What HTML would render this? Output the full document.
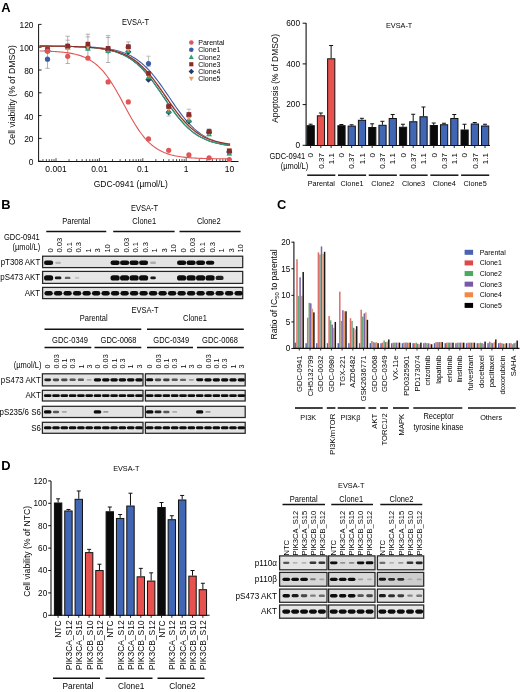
<!DOCTYPE html>
<html><head><meta charset="utf-8"><title>Figure</title>
<style>html,body{margin:0;padding:0;background:#fff;}body{width:520px;height:692px;overflow:hidden;font-family:"Liberation Sans", sans-serif;}svg{display:block;filter:blur(0.35px);}</style>
</head><body>
<svg width="520" height="692" viewBox="0 0 520 692" font-family='"Liberation Sans", sans-serif'>
<defs>
<filter id="bl" x="-50%" y="-80%" width="200%" height="260%"><feGaussianBlur stdDeviation="0.55"/></filter>
<clipPath id="cclip"><rect x="300" y="400" width="200" height="45.5"/></clipPath>
</defs>
<rect width="520" height="692" fill="#fff"/>
<text x="1.20" y="11.90" font-size="12.90" text-anchor="start" font-weight="bold" fill="#000">A</text>
<text x="135.50" y="25.00" font-size="8.25" text-anchor="middle" transform="translate(135.50 25.00) scale(0.9091 1) translate(-135.50 -25.00)" fill="#050505">EVSA-T</text>
<line x1="38.60" y1="24.20" x2="38.60" y2="161.20" stroke="#111" stroke-width="1"/>
<line x1="38.10" y1="161.50" x2="238.50" y2="161.50" stroke="#111" stroke-width="1"/>
<line x1="38.60" y1="161.20" x2="41.60" y2="161.20" stroke="#111" stroke-width="0.9"/>
<text x="33.50" y="165.20" font-size="9.24" text-anchor="end" transform="translate(33.50 165.20) scale(0.9091 1) translate(-33.50 -165.20)" fill="#050505">0</text>
<line x1="38.60" y1="138.40" x2="41.60" y2="138.40" stroke="#111" stroke-width="0.9"/>
<text x="33.50" y="142.40" font-size="9.24" text-anchor="end" transform="translate(33.50 142.40) scale(0.9091 1) translate(-33.50 -142.40)" fill="#050505">20</text>
<line x1="38.60" y1="115.60" x2="41.60" y2="115.60" stroke="#111" stroke-width="0.9"/>
<text x="33.50" y="119.60" font-size="9.24" text-anchor="end" transform="translate(33.50 119.60) scale(0.9091 1) translate(-33.50 -119.60)" fill="#050505">40</text>
<line x1="38.60" y1="92.80" x2="41.60" y2="92.80" stroke="#111" stroke-width="0.9"/>
<text x="33.50" y="96.80" font-size="9.24" text-anchor="end" transform="translate(33.50 96.80) scale(0.9091 1) translate(-33.50 -96.80)" fill="#050505">60</text>
<line x1="38.60" y1="70.00" x2="41.60" y2="70.00" stroke="#111" stroke-width="0.9"/>
<text x="33.50" y="74.00" font-size="9.24" text-anchor="end" transform="translate(33.50 74.00) scale(0.9091 1) translate(-33.50 -74.00)" fill="#050505">80</text>
<line x1="38.60" y1="47.20" x2="41.60" y2="47.20" stroke="#111" stroke-width="0.9"/>
<text x="33.50" y="51.20" font-size="9.24" text-anchor="end" transform="translate(33.50 51.20) scale(0.9091 1) translate(-33.50 -51.20)" fill="#050505">100</text>
<line x1="38.60" y1="24.40" x2="41.60" y2="24.40" stroke="#111" stroke-width="0.9"/>
<text x="33.50" y="28.40" font-size="9.24" text-anchor="end" transform="translate(33.50 28.40) scale(0.9091 1) translate(-33.50 -28.40)" fill="#050505">120</text>
<line x1="42.94" y1="161.50" x2="42.94" y2="159.10" stroke="#222" stroke-width="0.8"/>
<line x1="46.37" y1="161.50" x2="46.37" y2="159.10" stroke="#222" stroke-width="0.8"/>
<line x1="49.28" y1="161.50" x2="49.28" y2="159.10" stroke="#222" stroke-width="0.8"/>
<line x1="51.79" y1="161.50" x2="51.79" y2="159.10" stroke="#222" stroke-width="0.8"/>
<line x1="54.01" y1="161.50" x2="54.01" y2="159.10" stroke="#222" stroke-width="0.8"/>
<line x1="56.00" y1="161.50" x2="56.00" y2="158.10" stroke="#222" stroke-width="0.8"/>
<line x1="69.06" y1="161.50" x2="69.06" y2="159.10" stroke="#222" stroke-width="0.8"/>
<line x1="76.71" y1="161.50" x2="76.71" y2="159.10" stroke="#222" stroke-width="0.8"/>
<line x1="82.13" y1="161.50" x2="82.13" y2="159.10" stroke="#222" stroke-width="0.8"/>
<line x1="86.34" y1="161.50" x2="86.34" y2="159.10" stroke="#222" stroke-width="0.8"/>
<line x1="89.77" y1="161.50" x2="89.77" y2="159.10" stroke="#222" stroke-width="0.8"/>
<line x1="92.68" y1="161.50" x2="92.68" y2="159.10" stroke="#222" stroke-width="0.8"/>
<line x1="95.19" y1="161.50" x2="95.19" y2="159.10" stroke="#222" stroke-width="0.8"/>
<line x1="97.41" y1="161.50" x2="97.41" y2="159.10" stroke="#222" stroke-width="0.8"/>
<line x1="99.40" y1="161.50" x2="99.40" y2="158.10" stroke="#222" stroke-width="0.8"/>
<line x1="112.46" y1="161.50" x2="112.46" y2="159.10" stroke="#222" stroke-width="0.8"/>
<line x1="120.11" y1="161.50" x2="120.11" y2="159.10" stroke="#222" stroke-width="0.8"/>
<line x1="125.53" y1="161.50" x2="125.53" y2="159.10" stroke="#222" stroke-width="0.8"/>
<line x1="129.74" y1="161.50" x2="129.74" y2="159.10" stroke="#222" stroke-width="0.8"/>
<line x1="133.17" y1="161.50" x2="133.17" y2="159.10" stroke="#222" stroke-width="0.8"/>
<line x1="136.08" y1="161.50" x2="136.08" y2="159.10" stroke="#222" stroke-width="0.8"/>
<line x1="138.59" y1="161.50" x2="138.59" y2="159.10" stroke="#222" stroke-width="0.8"/>
<line x1="140.81" y1="161.50" x2="140.81" y2="159.10" stroke="#222" stroke-width="0.8"/>
<line x1="142.80" y1="161.50" x2="142.80" y2="158.10" stroke="#222" stroke-width="0.8"/>
<line x1="155.86" y1="161.50" x2="155.86" y2="159.10" stroke="#222" stroke-width="0.8"/>
<line x1="163.51" y1="161.50" x2="163.51" y2="159.10" stroke="#222" stroke-width="0.8"/>
<line x1="168.93" y1="161.50" x2="168.93" y2="159.10" stroke="#222" stroke-width="0.8"/>
<line x1="173.14" y1="161.50" x2="173.14" y2="159.10" stroke="#222" stroke-width="0.8"/>
<line x1="176.57" y1="161.50" x2="176.57" y2="159.10" stroke="#222" stroke-width="0.8"/>
<line x1="179.48" y1="161.50" x2="179.48" y2="159.10" stroke="#222" stroke-width="0.8"/>
<line x1="181.99" y1="161.50" x2="181.99" y2="159.10" stroke="#222" stroke-width="0.8"/>
<line x1="184.21" y1="161.50" x2="184.21" y2="159.10" stroke="#222" stroke-width="0.8"/>
<line x1="186.20" y1="161.50" x2="186.20" y2="158.10" stroke="#222" stroke-width="0.8"/>
<line x1="199.26" y1="161.50" x2="199.26" y2="159.10" stroke="#222" stroke-width="0.8"/>
<line x1="206.91" y1="161.50" x2="206.91" y2="159.10" stroke="#222" stroke-width="0.8"/>
<line x1="212.33" y1="161.50" x2="212.33" y2="159.10" stroke="#222" stroke-width="0.8"/>
<line x1="216.54" y1="161.50" x2="216.54" y2="159.10" stroke="#222" stroke-width="0.8"/>
<line x1="219.97" y1="161.50" x2="219.97" y2="159.10" stroke="#222" stroke-width="0.8"/>
<line x1="222.88" y1="161.50" x2="222.88" y2="159.10" stroke="#222" stroke-width="0.8"/>
<line x1="225.39" y1="161.50" x2="225.39" y2="159.10" stroke="#222" stroke-width="0.8"/>
<line x1="227.61" y1="161.50" x2="227.61" y2="159.10" stroke="#222" stroke-width="0.8"/>
<line x1="229.60" y1="161.50" x2="229.60" y2="158.10" stroke="#222" stroke-width="0.8"/>
<text x="56.00" y="172.20" font-size="9.35" text-anchor="middle" transform="translate(56.00 172.20) scale(0.9091 1) translate(-56.00 -172.20)" fill="#050505">0.001</text>
<text x="99.40" y="172.20" font-size="9.35" text-anchor="middle" transform="translate(99.40 172.20) scale(0.9091 1) translate(-99.40 -172.20)" fill="#050505">0.01</text>
<text x="142.80" y="172.20" font-size="9.35" text-anchor="middle" transform="translate(142.80 172.20) scale(0.9091 1) translate(-142.80 -172.20)" fill="#050505">0.1</text>
<text x="186.20" y="172.20" font-size="9.35" text-anchor="middle" transform="translate(186.20 172.20) scale(0.9091 1) translate(-186.20 -172.20)" fill="#050505">1</text>
<text x="229.60" y="172.20" font-size="9.35" text-anchor="middle" transform="translate(229.60 172.20) scale(0.9091 1) translate(-229.60 -172.20)" fill="#050505">10</text>
<text x="130.80" y="187.10" font-size="9.35" text-anchor="middle" transform="translate(130.80 187.10) scale(0.9091 1) translate(-130.80 -187.10)" fill="#050505">GDC-0941 (µmol/L)</text>
<text x="14.90" y="95.00" font-size="8.70" text-anchor="middle" transform="rotate(-90 14.90 95.00)" fill="#050505">Cell viability (% of DMSO)</text>
<line x1="47.50" y1="47.50" x2="47.50" y2="68.30" stroke="#9aa0b0" stroke-width="0.8"/>
<line x1="45.30" y1="47.50" x2="49.70" y2="47.50" stroke="#9aa0b0" stroke-width="0.8"/>
<line x1="45.30" y1="68.30" x2="49.70" y2="68.30" stroke="#9aa0b0" stroke-width="0.8"/>
<line x1="67.70" y1="36.20" x2="67.70" y2="63.50" stroke="#a0a0a0" stroke-width="0.8"/>
<line x1="65.50" y1="36.20" x2="69.90" y2="36.20" stroke="#a0a0a0" stroke-width="0.8"/>
<line x1="65.50" y1="63.50" x2="69.90" y2="63.50" stroke="#a0a0a0" stroke-width="0.8"/>
<line x1="87.90" y1="34.20" x2="87.90" y2="59.60" stroke="#a0a0a0" stroke-width="0.8"/>
<line x1="85.70" y1="34.20" x2="90.10" y2="34.20" stroke="#a0a0a0" stroke-width="0.8"/>
<line x1="85.70" y1="59.60" x2="90.10" y2="59.60" stroke="#a0a0a0" stroke-width="0.8"/>
<line x1="108.10" y1="35.60" x2="108.10" y2="62.50" stroke="#a0a0a0" stroke-width="0.8"/>
<line x1="105.90" y1="35.60" x2="110.30" y2="35.60" stroke="#a0a0a0" stroke-width="0.8"/>
<line x1="105.90" y1="62.50" x2="110.30" y2="62.50" stroke="#a0a0a0" stroke-width="0.8"/>
<line x1="128.30" y1="41.90" x2="128.30" y2="51.50" stroke="#a0a0a0" stroke-width="0.8"/>
<line x1="126.10" y1="41.90" x2="130.50" y2="41.90" stroke="#a0a0a0" stroke-width="0.8"/>
<line x1="126.10" y1="51.50" x2="130.50" y2="51.50" stroke="#a0a0a0" stroke-width="0.8"/>
<line x1="148.50" y1="56.20" x2="148.50" y2="66.50" stroke="#b0b0b0" stroke-width="0.8"/>
<line x1="146.30" y1="56.20" x2="150.70" y2="56.20" stroke="#b0b0b0" stroke-width="0.8"/>
<line x1="146.30" y1="66.50" x2="150.70" y2="66.50" stroke="#b0b0b0" stroke-width="0.8"/>
<line x1="168.70" y1="103.50" x2="168.70" y2="116.00" stroke="#b0b0b0" stroke-width="0.8"/>
<line x1="166.50" y1="103.50" x2="170.90" y2="103.50" stroke="#b0b0b0" stroke-width="0.8"/>
<line x1="166.50" y1="116.00" x2="170.90" y2="116.00" stroke="#b0b0b0" stroke-width="0.8"/>
<line x1="188.90" y1="109.20" x2="188.90" y2="121.00" stroke="#b0b0b0" stroke-width="0.8"/>
<line x1="186.70" y1="109.20" x2="191.10" y2="109.20" stroke="#b0b0b0" stroke-width="0.8"/>
<line x1="186.70" y1="121.00" x2="191.10" y2="121.00" stroke="#b0b0b0" stroke-width="0.8"/>
<line x1="209.10" y1="128.80" x2="209.10" y2="135.80" stroke="#b0b0b0" stroke-width="0.8"/>
<line x1="206.90" y1="128.80" x2="211.30" y2="128.80" stroke="#b0b0b0" stroke-width="0.8"/>
<line x1="206.90" y1="135.80" x2="211.30" y2="135.80" stroke="#b0b0b0" stroke-width="0.8"/>
<line x1="229.30" y1="149.00" x2="229.30" y2="155.00" stroke="#b8b8b8" stroke-width="0.8"/>
<line x1="227.10" y1="149.00" x2="231.50" y2="149.00" stroke="#b8b8b8" stroke-width="0.8"/>
<line x1="227.10" y1="155.00" x2="231.50" y2="155.00" stroke="#b8b8b8" stroke-width="0.8"/>
<line x1="65.50" y1="40.20" x2="69.90" y2="40.20" stroke="#a8a0a0" stroke-width="0.8"/>
<line x1="85.70" y1="36.90" x2="90.10" y2="36.90" stroke="#a8a0a0" stroke-width="0.8"/>
<line x1="105.90" y1="37.50" x2="110.30" y2="37.50" stroke="#a8a0a0" stroke-width="0.8"/>
<line x1="85.70" y1="57.50" x2="90.10" y2="57.50" stroke="#a8a0a0" stroke-width="0.8"/>
<polyline points="39.6,46.11 41.1,46.12 42.6,46.12 44.1,46.13 45.6,46.14 47.1,46.14 48.6,46.15 50.1,46.16 51.6,46.17 53.1,46.18 54.6,46.19 56.1,46.20 57.6,46.21 59.1,46.23 60.6,46.24 62.1,46.26 63.6,46.28 65.1,46.30 66.6,46.32 68.1,46.34 69.6,46.37 71.1,46.40 72.6,46.43 74.1,46.46 75.6,46.50 77.1,46.54 78.6,46.58 80.1,46.63 81.6,46.68 83.1,46.73 84.6,46.79 86.1,46.86 87.6,46.93 89.1,47.01 90.6,47.10 92.1,47.19 93.6,47.30 95.1,47.41 96.6,47.53 98.1,47.66 99.6,47.80 101.1,47.96 102.6,48.13 104.1,48.32 105.6,48.52 107.1,48.74 108.6,48.97 110.1,49.23 111.6,49.51 113.1,49.82 114.6,50.15 116.1,50.50 117.6,50.89 119.1,51.31 120.6,51.76 122.1,52.25 123.6,52.78 125.1,53.35 126.6,53.97 128.1,54.63 129.6,55.35 131.1,56.11 132.6,56.93 134.1,57.81 135.6,58.75 137.1,59.76 138.6,60.83 140.1,61.97 141.6,63.18 143.1,64.46 144.6,65.81 146.1,67.24 147.6,68.75 149.1,70.33 150.6,71.98 152.1,73.70 153.6,75.50 155.1,77.36 156.6,79.29 158.1,81.27 159.6,83.31 161.1,85.40 162.6,87.53 164.1,89.69 165.6,91.88 167.1,94.08 168.6,96.30 170.1,98.52 171.6,100.74 173.1,102.93 174.6,105.11 176.1,107.25 177.6,109.36 179.1,111.42 180.6,113.43 182.1,115.38 183.6,117.27 185.1,119.10 186.6,120.85 188.1,122.54 189.6,124.15 191.1,125.69 192.6,127.15 194.1,128.54 195.6,129.85 197.1,131.09 198.6,132.26 200.1,133.36 201.6,134.40 203.1,135.36 204.6,136.27 206.1,137.12 207.6,137.91 209.1,138.64 210.6,139.32 212.1,139.96 213.6,140.55 215.1,141.10 216.6,141.60 218.1,142.07 219.6,142.51 221.1,142.91 222.6,143.28 224.1,143.62 225.6,143.94 227.1,144.23 228.6,144.49 230.1,144.74" fill="none" stroke="#3b5ca8" stroke-width="1.1"/>
<polyline points="39.6,46.13 41.1,46.14 42.6,46.15 44.1,46.16 45.6,46.16 47.1,46.17 48.6,46.18 50.1,46.20 51.6,46.21 53.1,46.22 54.6,46.24 56.1,46.25 57.6,46.27 59.1,46.29 60.6,46.31 62.1,46.33 63.6,46.36 65.1,46.38 66.6,46.41 68.1,46.45 69.6,46.48 71.1,46.52 72.6,46.56 74.1,46.61 75.6,46.66 77.1,46.71 78.6,46.77 80.1,46.83 81.6,46.90 83.1,46.98 84.6,47.06 86.1,47.16 87.6,47.25 89.1,47.36 90.6,47.48 92.1,47.61 93.6,47.75 95.1,47.90 96.6,48.06 98.1,48.24 99.6,48.44 101.1,48.65 102.6,48.88 104.1,49.13 105.6,49.40 107.1,49.70 108.6,50.02 110.1,50.36 111.6,50.74 113.1,51.15 114.6,51.59 116.1,52.06 117.6,52.58 119.1,53.13 120.6,53.73 122.1,54.37 123.6,55.06 125.1,55.81 126.6,56.61 128.1,57.46 129.6,58.38 131.1,59.36 132.6,60.41 134.1,61.52 135.6,62.70 137.1,63.95 138.6,65.28 140.1,66.68 141.6,68.16 143.1,69.71 144.6,71.33 146.1,73.03 147.6,74.80 149.1,76.64 150.6,78.54 152.1,80.50 153.6,82.52 155.1,84.59 156.6,86.70 158.1,88.85 159.6,91.03 161.1,93.23 162.6,95.45 164.1,97.67 165.6,99.88 167.1,102.09 168.6,104.27 170.1,106.43 171.6,108.55 173.1,110.63 174.6,112.66 176.1,114.64 177.6,116.55 179.1,118.40 180.6,120.18 182.1,121.90 183.6,123.54 185.1,125.10 186.6,126.59 188.1,128.01 189.6,129.35 191.1,130.62 192.6,131.82 194.1,132.95 195.6,134.01 197.1,135.00 198.6,135.93 200.1,136.80 201.6,137.61 203.1,138.36 204.6,139.07 206.1,139.72 207.6,140.33 209.1,140.89 210.6,141.41 212.1,141.90 213.6,142.34 215.1,142.76 216.6,143.14 218.1,143.49 219.6,143.82 221.1,144.12 222.6,144.39 224.1,144.65 225.6,144.88 227.1,145.10 228.6,145.30 230.1,145.48" fill="none" stroke="#2b3768" stroke-width="1.1"/>
<polyline points="39.6,46.13 41.1,46.14 42.6,46.15 44.1,46.16 45.6,46.16 47.1,46.17 48.6,46.18 50.1,46.20 51.6,46.21 53.1,46.22 54.6,46.24 56.1,46.25 57.6,46.27 59.1,46.29 60.6,46.31 62.1,46.33 63.6,46.36 65.1,46.38 66.6,46.41 68.1,46.45 69.6,46.48 71.1,46.52 72.6,46.56 74.1,46.61 75.6,46.66 77.1,46.71 78.6,46.77 80.1,46.83 81.6,46.90 83.1,46.98 84.6,47.06 86.1,47.16 87.6,47.25 89.1,47.36 90.6,47.48 92.1,47.61 93.6,47.75 95.1,47.90 96.6,48.06 98.1,48.24 99.6,48.44 101.1,48.65 102.6,48.88 104.1,49.13 105.6,49.40 107.1,49.70 108.6,50.02 110.1,50.36 111.6,50.74 113.1,51.15 114.6,51.59 116.1,52.06 117.6,52.58 119.1,53.13 120.6,53.73 122.1,54.37 123.6,55.06 125.1,55.81 126.6,56.61 128.1,57.46 129.6,58.38 131.1,59.36 132.6,60.41 134.1,61.52 135.6,62.70 137.1,63.95 138.6,65.28 140.1,66.68 141.6,68.16 143.1,69.71 144.6,71.33 146.1,73.03 147.6,74.80 149.1,76.64 150.6,78.54 152.1,80.50 153.6,82.52 155.1,84.59 156.6,86.70 158.1,88.85 159.6,91.03 161.1,93.23 162.6,95.45 164.1,97.67 165.6,99.88 167.1,102.09 168.6,104.27 170.1,106.43 171.6,108.55 173.1,110.63 174.6,112.66 176.1,114.64 177.6,116.55 179.1,118.40 180.6,120.18 182.1,121.90 183.6,123.54 185.1,125.10 186.6,126.59 188.1,128.01 189.6,129.35 191.1,130.62 192.6,131.82 194.1,132.95 195.6,134.01 197.1,135.00 198.6,135.93 200.1,136.80 201.6,137.61 203.1,138.36 204.6,139.07 206.1,139.72 207.6,140.33 209.1,140.89 210.6,141.41 212.1,141.90 213.6,142.34 215.1,142.76 216.6,143.14 218.1,143.49 219.6,143.82 221.1,144.12 222.6,144.39 224.1,144.65 225.6,144.88 227.1,145.10 228.6,145.30 230.1,145.48" fill="none" stroke="#2f9e73" stroke-width="1.1"/>
<polyline points="39.6,46.12 41.1,46.13 42.6,46.14 44.1,46.14 45.6,46.15 47.1,46.16 48.6,46.17 50.1,46.18 51.6,46.19 53.1,46.20 54.6,46.21 56.1,46.23 57.6,46.24 59.1,46.26 60.6,46.27 62.1,46.29 63.6,46.32 65.1,46.34 66.6,46.36 68.1,46.39 69.6,46.42 71.1,46.46 72.6,46.49 74.1,46.53 75.6,46.57 77.1,46.62 78.6,46.67 80.1,46.73 81.6,46.79 83.1,46.85 84.6,46.93 86.1,47.01 87.6,47.09 89.1,47.18 90.6,47.29 92.1,47.40 93.6,47.52 95.1,47.65 96.6,47.79 98.1,47.95 99.6,48.12 101.1,48.30 102.6,48.50 104.1,48.72 105.6,48.95 107.1,49.21 108.6,49.49 110.1,49.79 111.6,50.12 113.1,50.47 114.6,50.85 116.1,51.27 117.6,51.72 119.1,52.21 120.6,52.73 122.1,53.30 123.6,53.91 125.1,54.56 126.6,55.27 128.1,56.03 129.6,56.84 131.1,57.72 132.6,58.65 134.1,59.65 135.6,60.71 137.1,61.84 138.6,63.03 140.1,64.31 141.6,65.65 143.1,67.07 144.6,68.56 146.1,70.12 147.6,71.76 149.1,73.47 150.6,75.24 152.1,77.09 153.6,79.00 155.1,80.96 156.6,82.98 158.1,85.04 159.6,87.15 161.1,89.29 162.6,91.45 164.1,93.64 165.6,95.83 167.1,98.03 168.6,100.21 170.1,102.39 171.6,104.54 173.1,106.65 174.6,108.73 176.1,110.77 177.6,112.75 179.1,114.68 180.6,116.55 182.1,118.35 183.6,120.08 185.1,121.75 186.6,123.34 188.1,124.85 189.6,126.30 191.1,127.67 192.6,128.96 194.1,130.19 195.6,131.34 197.1,132.43 198.6,133.44 200.1,134.40 201.6,135.29 203.1,136.13 204.6,136.91 206.1,137.63 207.6,138.30 209.1,138.93 210.6,139.51 212.1,140.05 213.6,140.55 215.1,141.01 216.6,141.44 218.1,141.84 219.6,142.20 221.1,142.54 222.6,142.85 224.1,143.14 225.6,143.40 227.1,143.64 228.6,143.87 230.1,144.07" fill="none" stroke="#e5a062" stroke-width="1.1"/>
<polyline points="39.6,46.13 41.1,46.13 42.6,46.14 44.1,46.14 45.6,46.15 47.1,46.16 48.6,46.17 50.1,46.18 51.6,46.19 53.1,46.20 54.6,46.22 56.1,46.23 57.6,46.25 59.1,46.26 60.6,46.28 62.1,46.30 63.6,46.32 65.1,46.35 66.6,46.38 68.1,46.40 69.6,46.44 71.1,46.47 72.6,46.51 74.1,46.55 75.6,46.59 77.1,46.64 78.6,46.69 80.1,46.75 81.6,46.81 83.1,46.88 84.6,46.96 86.1,47.04 87.6,47.12 89.1,47.22 90.6,47.33 92.1,47.44 93.6,47.56 95.1,47.70 96.6,47.85 98.1,48.01 99.6,48.18 101.1,48.37 102.6,48.58 104.1,48.80 105.6,49.05 107.1,49.31 108.6,49.60 110.1,49.91 111.6,50.25 113.1,50.61 114.6,51.01 116.1,51.44 117.6,51.90 119.1,52.40 120.6,52.94 122.1,53.52 123.6,54.15 125.1,54.82 126.6,55.55 128.1,56.33 129.6,57.16 131.1,58.06 132.6,59.02 134.1,60.04 135.6,61.12 137.1,62.28 138.6,63.50 140.1,64.80 141.6,66.17 143.1,67.62 144.6,69.13 146.1,70.73 147.6,72.39 149.1,74.13 150.6,75.93 152.1,77.80 153.6,79.73 155.1,81.71 156.6,83.75 158.1,85.83 159.6,87.95 161.1,90.10 162.6,92.27 164.1,94.46 165.6,96.65 167.1,98.85 168.6,101.03 170.1,103.20 171.6,105.33 173.1,107.44 174.6,109.50 176.1,111.52 177.6,113.48 179.1,115.39 180.6,117.23 182.1,119.01 183.6,120.72 185.1,122.35 186.6,123.91 188.1,125.40 189.6,126.82 191.1,128.16 192.6,129.43 194.1,130.63 195.6,131.76 197.1,132.82 198.6,133.81 200.1,134.74 201.6,135.61 203.1,136.43 204.6,137.18 206.1,137.89 207.6,138.54 209.1,139.15 210.6,139.72 212.1,140.24 213.6,140.73 215.1,141.18 216.6,141.59 218.1,141.98 219.6,142.33 221.1,142.66 222.6,142.96 224.1,143.24 225.6,143.49 227.1,143.73 228.6,143.95 230.1,144.14" fill="none" stroke="#8a2b2b" stroke-width="1.1"/>
<polyline points="39.6,50.94 41.1,50.97 42.6,51.01 44.1,51.05 45.6,51.10 47.1,51.15 48.6,51.21 50.1,51.28 51.6,51.35 53.1,51.43 54.6,51.51 56.1,51.61 57.6,51.72 59.1,51.83 60.6,51.96 62.1,52.11 63.6,52.27 65.1,52.44 66.6,52.64 68.1,52.86 69.6,53.09 71.1,53.36 72.6,53.65 74.1,53.97 75.6,54.32 77.1,54.71 78.6,55.13 80.1,55.60 81.6,56.12 83.1,56.68 84.6,57.30 86.1,57.98 87.6,58.72 89.1,59.54 90.6,60.42 92.1,61.38 93.6,62.43 95.1,63.56 96.6,64.79 98.1,66.11 99.6,67.53 101.1,69.06 102.6,70.70 104.1,72.45 105.6,74.31 107.1,76.28 108.6,78.36 110.1,80.54 111.6,82.84 113.1,85.23 114.6,87.71 116.1,90.27 117.6,92.90 119.1,95.60 120.6,98.34 122.1,101.12 123.6,103.91 125.1,106.71 126.6,109.50 128.1,112.27 129.6,114.99 131.1,117.66 132.6,120.27 134.1,122.80 135.6,125.25 137.1,127.60 138.6,129.85 140.1,132.00 141.6,134.04 143.1,135.97 144.6,137.78 146.1,139.49 147.6,141.08 149.1,142.57 150.6,143.96 152.1,145.24 153.6,146.43 155.1,147.53 156.6,148.54 158.1,149.47 159.6,150.33 161.1,151.11 162.6,151.83 164.1,152.48 165.6,153.08 167.1,153.63 168.6,154.12 170.1,154.58 171.6,154.99 173.1,155.36 174.6,155.70 176.1,156.01 177.6,156.29 179.1,156.54 180.6,156.77 182.1,156.98 183.6,157.17 185.1,157.34 186.6,157.49 188.1,157.63 189.6,157.75 191.1,157.87 192.6,157.97 194.1,158.06 195.6,158.15 197.1,158.22 198.6,158.29 200.1,158.35 201.6,158.41 203.1,158.46 204.6,158.50 206.1,158.54 207.6,158.58 209.1,158.61 210.6,158.64 212.1,158.67 213.6,158.70 215.1,158.72 216.6,158.74 218.1,158.76 219.6,158.77 221.1,158.79 222.6,158.80 224.1,158.81 225.6,158.82 227.1,158.83 228.6,158.84 230.1,158.85" fill="none" stroke="#e05656" stroke-width="1.1"/>
<circle cx="47.50" cy="59.17" r="2.6" fill="#3b5ca8"/>
<circle cx="67.70" cy="46.06" r="2.6" fill="#3b5ca8"/>
<circle cx="87.90" cy="47.20" r="2.6" fill="#3b5ca8"/>
<circle cx="108.10" cy="49.48" r="2.6" fill="#3b5ca8"/>
<circle cx="128.30" cy="47.20" r="2.6" fill="#3b5ca8"/>
<circle cx="148.50" cy="63.62" r="2.6" fill="#3b5ca8"/>
<circle cx="168.70" cy="106.48" r="2.6" fill="#3b5ca8"/>
<circle cx="188.90" cy="115.60" r="2.6" fill="#3b5ca8"/>
<circle cx="209.10" cy="131.56" r="2.6" fill="#3b5ca8"/>
<circle cx="229.30" cy="151.51" r="2.6" fill="#3b5ca8"/>
<polygon points="47.50,47.50 50.62,50.62 47.50,53.74 44.38,50.62" fill="#2b3768"/>
<polygon points="67.70,44.08 70.82,47.20 67.70,50.32 64.58,47.20" fill="#2b3768"/>
<polygon points="87.90,44.08 91.02,47.20 87.90,50.32 84.78,47.20" fill="#2b3768"/>
<polygon points="108.10,47.50 111.22,50.62 108.10,53.74 104.98,50.62" fill="#2b3768"/>
<polygon points="128.30,48.64 131.42,51.76 128.30,54.88 125.18,51.76" fill="#2b3768"/>
<polygon points="148.50,76.57 151.62,79.69 148.50,82.81 145.38,79.69" fill="#2b3768"/>
<polygon points="168.70,109.06 171.82,112.18 168.70,115.30 165.58,112.18" fill="#2b3768"/>
<polygon points="188.90,118.18 192.02,121.30 188.90,124.42 185.78,121.30" fill="#2b3768"/>
<polygon points="209.10,129.58 212.22,132.70 209.10,135.82 205.98,132.70" fill="#2b3768"/>
<polygon points="229.30,148.96 232.42,152.08 229.30,155.20 226.18,152.08" fill="#2b3768"/>
<polygon points="47.50,47.76 50.36,52.96 44.64,52.96" fill="#2f9e73"/>
<polygon points="67.70,44.34 70.56,49.54 64.84,49.54" fill="#2f9e73"/>
<polygon points="87.90,45.48 90.76,50.68 85.04,50.68" fill="#2f9e73"/>
<polygon points="108.10,47.76 110.96,52.96 105.24,52.96" fill="#2f9e73"/>
<polygon points="128.30,47.76 131.16,52.96 125.44,52.96" fill="#2f9e73"/>
<polygon points="148.50,73.98 151.36,79.18 145.64,79.18" fill="#2f9e73"/>
<polygon points="168.70,108.18 171.56,113.38 165.84,113.38" fill="#2f9e73"/>
<polygon points="188.90,117.30 191.76,122.50 186.04,122.50" fill="#2f9e73"/>
<polygon points="209.10,130.98 211.96,136.18 206.24,136.18" fill="#2f9e73"/>
<polygon points="229.30,150.36 232.16,155.56 226.44,155.56" fill="#2f9e73"/>
<polygon points="47.50,53.48 50.36,48.28 44.64,48.28" fill="#e5a062"/>
<polygon points="67.70,51.20 70.56,46.00 64.84,46.00" fill="#e5a062"/>
<polygon points="87.90,50.06 90.76,44.86 85.04,44.86" fill="#e5a062"/>
<polygon points="108.10,52.34 110.96,47.14 105.24,47.14" fill="#e5a062"/>
<polygon points="128.30,52.34 131.16,47.14 125.44,47.14" fill="#e5a062"/>
<polygon points="148.50,77.42 151.36,72.22 145.64,72.22" fill="#e5a062"/>
<polygon points="168.70,111.62 171.56,106.42 165.84,106.42" fill="#e5a062"/>
<polygon points="188.90,120.74 191.76,115.54 186.04,115.54" fill="#e5a062"/>
<polygon points="209.10,135.56 211.96,130.36 206.24,130.36" fill="#e5a062"/>
<polygon points="229.30,153.80 232.16,148.60 226.44,148.60" fill="#e5a062"/>
<rect x="45.16" y="47.14" width="4.68" height="4.68" fill="#8a2b2b"/>
<rect x="65.36" y="43.72" width="4.68" height="4.68" fill="#8a2b2b"/>
<rect x="85.56" y="41.78" width="4.68" height="4.68" fill="#8a2b2b"/>
<rect x="105.76" y="46.00" width="4.68" height="4.68" fill="#8a2b2b"/>
<rect x="125.96" y="44.29" width="4.68" height="4.68" fill="#8a2b2b"/>
<rect x="146.16" y="71.08" width="4.68" height="4.68" fill="#8a2b2b"/>
<rect x="166.36" y="104.14" width="4.68" height="4.68" fill="#8a2b2b"/>
<rect x="186.56" y="112.12" width="4.68" height="4.68" fill="#8a2b2b"/>
<rect x="206.76" y="129.22" width="4.68" height="4.68" fill="#8a2b2b"/>
<rect x="226.96" y="148.60" width="4.68" height="4.68" fill="#8a2b2b"/>
<circle cx="47.50" cy="51.19" r="2.6" fill="#e05656"/>
<circle cx="67.70" cy="56.32" r="2.6" fill="#e05656"/>
<circle cx="87.90" cy="58.03" r="2.6" fill="#e05656"/>
<circle cx="108.10" cy="81.97" r="2.6" fill="#e05656"/>
<circle cx="128.30" cy="101.92" r="2.6" fill="#e05656"/>
<circle cx="148.50" cy="138.97" r="2.6" fill="#e05656"/>
<circle cx="168.70" cy="150.37" r="2.6" fill="#e05656"/>
<circle cx="188.90" cy="154.93" r="2.6" fill="#e05656"/>
<circle cx="209.10" cy="157.78" r="2.6" fill="#e05656"/>
<circle cx="229.30" cy="159.49" r="2.6" fill="#e05656"/>
<circle cx="191.30" cy="42.50" r="2.3" fill="#e05656"/>
<text x="198.20" y="45.10" font-size="7.76" text-anchor="start" transform="translate(198.20 45.10) scale(0.9091 1) translate(-198.20 -45.10)" fill="#050505">Parental</text>
<circle cx="191.30" cy="49.75" r="2.3" fill="#3b5ca8"/>
<text x="198.20" y="52.35" font-size="7.76" text-anchor="start" transform="translate(198.20 52.35) scale(0.9091 1) translate(-198.20 -52.35)" fill="#050505">Clone1</text>
<polygon points="191.30,54.47 193.83,59.07 188.77,59.07" fill="#2f9e73"/>
<text x="198.20" y="59.60" font-size="7.76" text-anchor="start" transform="translate(198.20 59.60) scale(0.9091 1) translate(-198.20 -59.60)" fill="#050505">Clone2</text>
<rect x="189.23" y="62.18" width="4.14" height="4.14" fill="#8a2b2b"/>
<text x="198.20" y="66.85" font-size="7.76" text-anchor="start" transform="translate(198.20 66.85) scale(0.9091 1) translate(-198.20 -66.85)" fill="#050505">Clone3</text>
<polygon points="191.30,68.74 194.06,71.50 191.30,74.26 188.54,71.50" fill="#2b3768"/>
<text x="198.20" y="74.10" font-size="7.76" text-anchor="start" transform="translate(198.20 74.10) scale(0.9091 1) translate(-198.20 -74.10)" fill="#050505">Clone4</text>
<polygon points="191.30,81.28 193.83,76.68 188.77,76.68" fill="#e5a062"/>
<text x="198.20" y="81.35" font-size="7.76" text-anchor="start" transform="translate(198.20 81.35) scale(0.9091 1) translate(-198.20 -81.35)" fill="#050505">Clone5</text>
<line x1="306.10" y1="23.00" x2="306.10" y2="145.80" stroke="#111" stroke-width="1.1"/>
<line x1="305.60" y1="145.50" x2="490.00" y2="145.50" stroke="#111" stroke-width="1.1"/>
<line x1="302.60" y1="145.30" x2="306.10" y2="145.30" stroke="#111" stroke-width="1"/>
<text x="300.10" y="148.00" font-size="9.13" text-anchor="end" transform="translate(300.10 148.00) scale(0.9091 1) translate(-300.10 -148.00)" fill="#050505">0</text>
<line x1="302.60" y1="104.60" x2="306.10" y2="104.60" stroke="#111" stroke-width="1"/>
<text x="300.10" y="107.30" font-size="9.13" text-anchor="end" transform="translate(300.10 107.30) scale(0.9091 1) translate(-300.10 -107.30)" fill="#050505">200</text>
<line x1="302.60" y1="63.90" x2="306.10" y2="63.90" stroke="#111" stroke-width="1"/>
<text x="300.10" y="66.60" font-size="9.13" text-anchor="end" transform="translate(300.10 66.60) scale(0.9091 1) translate(-300.10 -66.60)" fill="#050505">400</text>
<line x1="302.60" y1="23.20" x2="306.10" y2="23.20" stroke="#111" stroke-width="1"/>
<text x="300.10" y="25.90" font-size="9.13" text-anchor="end" transform="translate(300.10 25.90) scale(0.9091 1) translate(-300.10 -25.90)" fill="#050505">600</text>
<text x="399.10" y="28.10" font-size="8.03" text-anchor="middle" transform="translate(399.10 28.10) scale(0.9091 1) translate(-399.10 -28.10)" fill="#050505">EVSA-T</text>
<text x="278.40" y="78.40" font-size="8.40" text-anchor="middle" transform="rotate(-90 278.40 78.40)" fill="#050505">Apoptosis (% of DMSO)</text>
<line x1="310.60" y1="124.20" x2="310.60" y2="125.20" stroke="#111" stroke-width="1"/>
<line x1="308.60" y1="124.20" x2="312.60" y2="124.20" stroke="#111" stroke-width="1"/>
<rect x="307.10" y="125.70" width="7.20" height="19.80" fill="#0a0a0a" stroke="#111" stroke-width="1"/>
<line x1="310.60" y1="145.50" x2="310.60" y2="148.00" stroke="#111" stroke-width="0.9"/>
<text x="313.40" y="153.10" font-size="8.00" text-anchor="end" transform="rotate(-90 313.40 153.10)" fill="#050505">0</text>
<line x1="320.86" y1="113.00" x2="320.86" y2="115.30" stroke="#111" stroke-width="1"/>
<line x1="318.86" y1="113.00" x2="322.86" y2="113.00" stroke="#111" stroke-width="1"/>
<rect x="317.36" y="115.80" width="7.20" height="29.70" fill="#e8524e" stroke="#111" stroke-width="1"/>
<line x1="320.86" y1="145.50" x2="320.86" y2="148.00" stroke="#111" stroke-width="0.9"/>
<text x="323.66" y="153.10" font-size="8.00" text-anchor="end" transform="rotate(-90 323.66 153.10)" fill="#050505">0.37</text>
<line x1="331.12" y1="45.50" x2="331.12" y2="58.30" stroke="#111" stroke-width="1"/>
<line x1="329.12" y1="45.50" x2="333.12" y2="45.50" stroke="#111" stroke-width="1"/>
<rect x="327.62" y="58.80" width="7.20" height="86.70" fill="#e8524e" stroke="#111" stroke-width="1"/>
<line x1="331.12" y1="145.50" x2="331.12" y2="148.00" stroke="#111" stroke-width="0.9"/>
<text x="333.92" y="153.10" font-size="8.00" text-anchor="end" transform="rotate(-90 333.92 153.10)" fill="#050505">1.1</text>
<line x1="341.38" y1="124.50" x2="341.38" y2="125.20" stroke="#111" stroke-width="1"/>
<line x1="339.38" y1="124.50" x2="343.38" y2="124.50" stroke="#111" stroke-width="1"/>
<rect x="337.88" y="125.70" width="7.20" height="19.80" fill="#0a0a0a" stroke="#111" stroke-width="1"/>
<line x1="341.38" y1="145.50" x2="341.38" y2="148.00" stroke="#111" stroke-width="0.9"/>
<text x="344.18" y="153.10" font-size="8.00" text-anchor="end" transform="rotate(-90 344.18 153.10)" fill="#050505">0</text>
<line x1="351.64" y1="124.80" x2="351.64" y2="125.60" stroke="#111" stroke-width="1"/>
<line x1="349.64" y1="124.80" x2="353.64" y2="124.80" stroke="#111" stroke-width="1"/>
<rect x="348.14" y="126.10" width="7.20" height="19.40" fill="#4066b4" stroke="#111" stroke-width="1"/>
<line x1="351.64" y1="145.50" x2="351.64" y2="148.00" stroke="#111" stroke-width="0.9"/>
<text x="354.44" y="153.10" font-size="8.00" text-anchor="end" transform="rotate(-90 354.44 153.10)" fill="#050505">0.37</text>
<line x1="361.90" y1="118.30" x2="361.90" y2="119.80" stroke="#111" stroke-width="1"/>
<line x1="359.90" y1="118.30" x2="363.90" y2="118.30" stroke="#111" stroke-width="1"/>
<rect x="358.40" y="120.30" width="7.20" height="25.20" fill="#4066b4" stroke="#111" stroke-width="1"/>
<line x1="361.90" y1="145.50" x2="361.90" y2="148.00" stroke="#111" stroke-width="0.9"/>
<text x="364.70" y="153.10" font-size="8.00" text-anchor="end" transform="rotate(-90 364.70 153.10)" fill="#050505">1.1</text>
<line x1="372.16" y1="123.80" x2="372.16" y2="127.00" stroke="#111" stroke-width="1"/>
<line x1="370.16" y1="123.80" x2="374.16" y2="123.80" stroke="#111" stroke-width="1"/>
<rect x="368.66" y="127.50" width="7.20" height="18.00" fill="#0a0a0a" stroke="#111" stroke-width="1"/>
<line x1="372.16" y1="145.50" x2="372.16" y2="148.00" stroke="#111" stroke-width="0.9"/>
<text x="374.96" y="153.10" font-size="8.00" text-anchor="end" transform="rotate(-90 374.96 153.10)" fill="#050505">0</text>
<line x1="382.42" y1="121.30" x2="382.42" y2="124.80" stroke="#111" stroke-width="1"/>
<line x1="380.42" y1="121.30" x2="384.42" y2="121.30" stroke="#111" stroke-width="1"/>
<rect x="378.92" y="125.30" width="7.20" height="20.20" fill="#4066b4" stroke="#111" stroke-width="1"/>
<line x1="382.42" y1="145.50" x2="382.42" y2="148.00" stroke="#111" stroke-width="0.9"/>
<text x="385.22" y="153.10" font-size="8.00" text-anchor="end" transform="rotate(-90 385.22 153.10)" fill="#050505">0.37</text>
<line x1="392.68" y1="114.50" x2="392.68" y2="118.00" stroke="#111" stroke-width="1"/>
<line x1="390.68" y1="114.50" x2="394.68" y2="114.50" stroke="#111" stroke-width="1"/>
<rect x="389.18" y="118.50" width="7.20" height="27.00" fill="#4066b4" stroke="#111" stroke-width="1"/>
<line x1="392.68" y1="145.50" x2="392.68" y2="148.00" stroke="#111" stroke-width="0.9"/>
<text x="395.48" y="153.10" font-size="8.00" text-anchor="end" transform="rotate(-90 395.48 153.10)" fill="#050505">1.1</text>
<line x1="402.94" y1="124.25" x2="402.94" y2="126.75" stroke="#111" stroke-width="1"/>
<line x1="400.94" y1="124.25" x2="404.94" y2="124.25" stroke="#111" stroke-width="1"/>
<rect x="399.44" y="127.25" width="7.20" height="18.25" fill="#0a0a0a" stroke="#111" stroke-width="1"/>
<line x1="402.94" y1="145.50" x2="402.94" y2="148.00" stroke="#111" stroke-width="0.9"/>
<text x="405.74" y="153.10" font-size="8.00" text-anchor="end" transform="rotate(-90 405.74 153.10)" fill="#050505">0</text>
<line x1="413.20" y1="114.25" x2="413.20" y2="121.25" stroke="#111" stroke-width="1"/>
<line x1="411.20" y1="114.25" x2="415.20" y2="114.25" stroke="#111" stroke-width="1"/>
<rect x="409.70" y="121.75" width="7.20" height="23.75" fill="#4066b4" stroke="#111" stroke-width="1"/>
<line x1="413.20" y1="145.50" x2="413.20" y2="148.00" stroke="#111" stroke-width="0.9"/>
<text x="416.00" y="153.10" font-size="8.00" text-anchor="end" transform="rotate(-90 416.00 153.10)" fill="#050505">0.37</text>
<line x1="423.46" y1="107.00" x2="423.46" y2="116.25" stroke="#111" stroke-width="1"/>
<line x1="421.46" y1="107.00" x2="425.46" y2="107.00" stroke="#111" stroke-width="1"/>
<rect x="419.96" y="116.75" width="7.20" height="28.75" fill="#4066b4" stroke="#111" stroke-width="1"/>
<line x1="423.46" y1="145.50" x2="423.46" y2="148.00" stroke="#111" stroke-width="0.9"/>
<text x="426.26" y="153.10" font-size="8.00" text-anchor="end" transform="rotate(-90 426.26 153.10)" fill="#050505">1.1</text>
<line x1="433.72" y1="123.00" x2="433.72" y2="125.00" stroke="#111" stroke-width="1"/>
<line x1="431.72" y1="123.00" x2="435.72" y2="123.00" stroke="#111" stroke-width="1"/>
<rect x="430.22" y="125.50" width="7.20" height="20.00" fill="#0a0a0a" stroke="#111" stroke-width="1"/>
<line x1="433.72" y1="145.50" x2="433.72" y2="148.00" stroke="#111" stroke-width="0.9"/>
<text x="436.52" y="153.10" font-size="8.00" text-anchor="end" transform="rotate(-90 436.52 153.10)" fill="#050505">0</text>
<line x1="443.98" y1="123.25" x2="443.98" y2="124.25" stroke="#111" stroke-width="1"/>
<line x1="441.98" y1="123.25" x2="445.98" y2="123.25" stroke="#111" stroke-width="1"/>
<rect x="440.48" y="124.75" width="7.20" height="20.75" fill="#4066b4" stroke="#111" stroke-width="1"/>
<line x1="443.98" y1="145.50" x2="443.98" y2="148.00" stroke="#111" stroke-width="0.9"/>
<text x="446.78" y="153.10" font-size="8.00" text-anchor="end" transform="rotate(-90 446.78 153.10)" fill="#050505">0.37</text>
<line x1="454.24" y1="114.50" x2="454.24" y2="118.00" stroke="#111" stroke-width="1"/>
<line x1="452.24" y1="114.50" x2="456.24" y2="114.50" stroke="#111" stroke-width="1"/>
<rect x="450.74" y="118.50" width="7.20" height="27.00" fill="#4066b4" stroke="#111" stroke-width="1"/>
<line x1="454.24" y1="145.50" x2="454.24" y2="148.00" stroke="#111" stroke-width="0.9"/>
<text x="457.04" y="153.10" font-size="8.00" text-anchor="end" transform="rotate(-90 457.04 153.10)" fill="#050505">1.1</text>
<line x1="464.50" y1="124.25" x2="464.50" y2="129.50" stroke="#111" stroke-width="1"/>
<line x1="462.50" y1="124.25" x2="466.50" y2="124.25" stroke="#111" stroke-width="1"/>
<rect x="461.00" y="130.00" width="7.20" height="15.50" fill="#0a0a0a" stroke="#111" stroke-width="1"/>
<line x1="464.50" y1="145.50" x2="464.50" y2="148.00" stroke="#111" stroke-width="0.9"/>
<text x="467.30" y="153.10" font-size="8.00" text-anchor="end" transform="rotate(-90 467.30 153.10)" fill="#050505">0</text>
<line x1="474.76" y1="122.50" x2="474.76" y2="123.50" stroke="#111" stroke-width="1"/>
<line x1="472.76" y1="122.50" x2="476.76" y2="122.50" stroke="#111" stroke-width="1"/>
<rect x="471.26" y="124.00" width="7.20" height="21.50" fill="#4066b4" stroke="#111" stroke-width="1"/>
<line x1="474.76" y1="145.50" x2="474.76" y2="148.00" stroke="#111" stroke-width="0.9"/>
<text x="477.56" y="153.10" font-size="8.00" text-anchor="end" transform="rotate(-90 477.56 153.10)" fill="#050505">0.37</text>
<line x1="485.02" y1="124.25" x2="485.02" y2="125.50" stroke="#111" stroke-width="1"/>
<line x1="483.02" y1="124.25" x2="487.02" y2="124.25" stroke="#111" stroke-width="1"/>
<rect x="481.52" y="126.00" width="7.20" height="19.50" fill="#4066b4" stroke="#111" stroke-width="1"/>
<line x1="485.02" y1="145.50" x2="485.02" y2="148.00" stroke="#111" stroke-width="0.9"/>
<text x="487.82" y="153.10" font-size="8.00" text-anchor="end" transform="rotate(-90 487.82 153.10)" fill="#050505">1.1</text>
<text x="305.30" y="158.70" font-size="8.25" text-anchor="end" transform="translate(305.30 158.70) scale(0.9091 1) translate(-305.30 -158.70)" fill="#050505">GDC-0941</text>
<text x="308.30" y="169.40" font-size="8.25" text-anchor="end" transform="translate(308.30 169.40) scale(0.9091 1) translate(-308.30 -169.40)" fill="#050505">(µmol/L)</text>
<line x1="307.20" y1="175.20" x2="335.32" y2="175.20" stroke="#111" stroke-width="1.5"/>
<text x="321.26" y="186.30" font-size="8.03" text-anchor="middle" transform="translate(321.26 186.30) scale(0.9091 1) translate(-321.26 -186.30)" fill="#050505">Parental</text>
<line x1="337.98" y1="175.20" x2="366.10" y2="175.20" stroke="#111" stroke-width="1.5"/>
<text x="352.04" y="186.30" font-size="8.03" text-anchor="middle" transform="translate(352.04 186.30) scale(0.9091 1) translate(-352.04 -186.30)" fill="#050505">Clone1</text>
<line x1="368.76" y1="175.20" x2="396.88" y2="175.20" stroke="#111" stroke-width="1.5"/>
<text x="382.82" y="186.30" font-size="8.03" text-anchor="middle" transform="translate(382.82 186.30) scale(0.9091 1) translate(-382.82 -186.30)" fill="#050505">Clone2</text>
<line x1="399.54" y1="175.20" x2="427.66" y2="175.20" stroke="#111" stroke-width="1.5"/>
<text x="413.60" y="186.30" font-size="8.03" text-anchor="middle" transform="translate(413.60 186.30) scale(0.9091 1) translate(-413.60 -186.30)" fill="#050505">Clone3</text>
<line x1="430.32" y1="175.20" x2="458.44" y2="175.20" stroke="#111" stroke-width="1.5"/>
<text x="444.38" y="186.30" font-size="8.03" text-anchor="middle" transform="translate(444.38 186.30) scale(0.9091 1) translate(-444.38 -186.30)" fill="#050505">Clone4</text>
<line x1="461.10" y1="175.20" x2="489.22" y2="175.20" stroke="#111" stroke-width="1.5"/>
<text x="475.16" y="186.30" font-size="8.03" text-anchor="middle" transform="translate(475.16 186.30) scale(0.9091 1) translate(-475.16 -186.30)" fill="#050505">Clone5</text>
<text x="1.30" y="209.40" font-size="12.90" text-anchor="start" font-weight="bold" fill="#000">B</text>
<text x="144.50" y="210.60" font-size="8.25" text-anchor="middle" transform="translate(144.50 210.60) scale(0.9091 1) translate(-144.50 -210.60)" fill="#050505">EVSA-T</text>
<text x="76.20" y="223.60" font-size="8.25" text-anchor="middle" transform="translate(76.20 223.60) scale(0.9091 1) translate(-76.20 -223.60)" fill="#050505">Parental</text>
<text x="144.20" y="223.60" font-size="8.25" text-anchor="middle" transform="translate(144.20 223.60) scale(0.9091 1) translate(-144.20 -223.60)" fill="#050505">Clone1</text>
<text x="208.80" y="223.60" font-size="8.25" text-anchor="middle" transform="translate(208.80 223.60) scale(0.9091 1) translate(-208.80 -223.60)" fill="#050505">Clone2</text>
<line x1="46.25" y1="231.50" x2="106.25" y2="231.50" stroke="#111" stroke-width="1.6"/>
<line x1="113.20" y1="231.50" x2="174.60" y2="231.50" stroke="#111" stroke-width="1.6"/>
<line x1="179.50" y1="231.50" x2="240.60" y2="231.50" stroke="#111" stroke-width="1.6"/>
<text x="39.80" y="240.20" font-size="8.25" text-anchor="end" transform="translate(39.80 240.20) scale(0.9091 1) translate(-39.80 -240.20)" fill="#050505">GDC-0941</text>
<text x="40.20" y="250.20" font-size="8.25" text-anchor="end" transform="translate(40.20 250.20) scale(0.9091 1) translate(-40.20 -250.20)" fill="#050505">(µmol/L)</text>
<text x="52.70" y="252.60" font-size="7.60" text-anchor="start" transform="rotate(-90 52.70 252.60)" fill="#050505">0</text>
<text x="62.22" y="252.60" font-size="7.60" text-anchor="start" transform="rotate(-90 62.22 252.60)" fill="#050505">0.03</text>
<text x="71.74" y="252.60" font-size="7.60" text-anchor="start" transform="rotate(-90 71.74 252.60)" fill="#050505">0.1</text>
<text x="81.26" y="252.60" font-size="7.60" text-anchor="start" transform="rotate(-90 81.26 252.60)" fill="#050505">0.3</text>
<text x="90.78" y="252.60" font-size="7.60" text-anchor="start" transform="rotate(-90 90.78 252.60)" fill="#050505">1</text>
<text x="100.30" y="252.60" font-size="7.60" text-anchor="start" transform="rotate(-90 100.30 252.60)" fill="#050505">3</text>
<text x="109.82" y="252.60" font-size="7.60" text-anchor="start" transform="rotate(-90 109.82 252.60)" fill="#050505">10</text>
<text x="119.34" y="252.60" font-size="7.60" text-anchor="start" transform="rotate(-90 119.34 252.60)" fill="#050505">0</text>
<text x="128.86" y="252.60" font-size="7.60" text-anchor="start" transform="rotate(-90 128.86 252.60)" fill="#050505">0.03</text>
<text x="138.38" y="252.60" font-size="7.60" text-anchor="start" transform="rotate(-90 138.38 252.60)" fill="#050505">0.1</text>
<text x="147.90" y="252.60" font-size="7.60" text-anchor="start" transform="rotate(-90 147.90 252.60)" fill="#050505">0.3</text>
<text x="157.42" y="252.60" font-size="7.60" text-anchor="start" transform="rotate(-90 157.42 252.60)" fill="#050505">1</text>
<text x="166.94" y="252.60" font-size="7.60" text-anchor="start" transform="rotate(-90 166.94 252.60)" fill="#050505">3</text>
<text x="176.46" y="252.60" font-size="7.60" text-anchor="start" transform="rotate(-90 176.46 252.60)" fill="#050505">10</text>
<text x="185.98" y="252.60" font-size="7.60" text-anchor="start" transform="rotate(-90 185.98 252.60)" fill="#050505">0</text>
<text x="195.50" y="252.60" font-size="7.60" text-anchor="start" transform="rotate(-90 195.50 252.60)" fill="#050505">0.03</text>
<text x="205.02" y="252.60" font-size="7.60" text-anchor="start" transform="rotate(-90 205.02 252.60)" fill="#050505">0.1</text>
<text x="214.54" y="252.60" font-size="7.60" text-anchor="start" transform="rotate(-90 214.54 252.60)" fill="#050505">0.3</text>
<text x="224.06" y="252.60" font-size="7.60" text-anchor="start" transform="rotate(-90 224.06 252.60)" fill="#050505">1</text>
<text x="233.58" y="252.60" font-size="7.60" text-anchor="start" transform="rotate(-90 233.58 252.60)" fill="#050505">3</text>
<text x="243.10" y="252.60" font-size="7.60" text-anchor="start" transform="rotate(-90 243.10 252.60)" fill="#050505">10</text>
<rect x="42.60" y="256.20" width="200.10" height="11.40" fill="#e4e4e4" stroke="#262626" stroke-width="1.25"/>
<text x="40.20" y="264.70" font-size="8.69" text-anchor="end" transform="translate(40.20 264.70) scale(0.9091 1) translate(-40.20 -264.70)" fill="#050505">pT308 AKT</text>
<rect x="44.00" y="260.50" width="9.20" height="4.60" rx="2.30" fill="#0d0d0d" fill-opacity="1.00" filter="url(#bl)"/>
<rect x="55.16" y="261.64" width="5.89" height="2.32" rx="1.16" fill="#0d0d0d" fill-opacity="0.21" filter="url(#bl)"/>
<rect x="110.50" y="260.50" width="9.20" height="4.60" rx="2.30" fill="#0d0d0d" fill-opacity="1.00" filter="url(#bl)"/>
<rect x="120.00" y="260.50" width="9.20" height="4.60" rx="2.30" fill="#0d0d0d" fill-opacity="1.00" filter="url(#bl)"/>
<rect x="129.50" y="260.50" width="9.20" height="4.60" rx="2.30" fill="#0d0d0d" fill-opacity="1.00" filter="url(#bl)"/>
<rect x="139.09" y="260.56" width="9.02" height="4.47" rx="2.24" fill="#0d0d0d" fill-opacity="1.00" filter="url(#bl)"/>
<rect x="150.12" y="261.61" width="5.96" height="2.37" rx="1.19" fill="#0d0d0d" fill-opacity="0.24" filter="url(#bl)"/>
<rect x="177.00" y="260.50" width="9.20" height="4.60" rx="2.30" fill="#0d0d0d" fill-opacity="1.00" filter="url(#bl)"/>
<rect x="186.50" y="260.50" width="9.20" height="4.60" rx="2.30" fill="#0d0d0d" fill-opacity="1.00" filter="url(#bl)"/>
<rect x="196.09" y="260.56" width="9.02" height="4.47" rx="2.24" fill="#0d0d0d" fill-opacity="1.00" filter="url(#bl)"/>
<rect x="205.87" y="260.75" width="8.46" height="4.09" rx="2.05" fill="#0d0d0d" fill-opacity="1.00" filter="url(#bl)"/>
<rect x="42.60" y="271.40" width="200.10" height="12.00" fill="#e6e6e6" stroke="#262626" stroke-width="1.25"/>
<text x="40.20" y="280.20" font-size="8.69" text-anchor="end" transform="translate(40.20 280.20) scale(0.9091 1) translate(-40.20 -280.20)" fill="#050505">pS473 AKT</text>
<rect x="44.00" y="275.30" width="9.20" height="5.20" rx="2.60" fill="#0d0d0d" fill-opacity="1.00" filter="url(#bl)"/>
<rect x="54.79" y="276.55" width="6.62" height="2.70" rx="1.35" fill="#0d0d0d" fill-opacity="0.95" filter="url(#bl)"/>
<rect x="64.75" y="276.73" width="5.70" height="2.34" rx="1.17" fill="#0d0d0d" fill-opacity="0.62" filter="url(#bl)"/>
<rect x="74.80" y="276.86" width="4.60" height="2.08" rx="1.04" fill="#0d0d0d" fill-opacity="0.14" filter="url(#bl)"/>
<rect x="110.50" y="275.30" width="9.20" height="5.20" rx="2.60" fill="#0d0d0d" fill-opacity="1.00" filter="url(#bl)"/>
<rect x="120.00" y="275.30" width="9.20" height="5.20" rx="2.60" fill="#0d0d0d" fill-opacity="1.00" filter="url(#bl)"/>
<rect x="129.50" y="275.30" width="9.20" height="5.20" rx="2.60" fill="#0d0d0d" fill-opacity="1.00" filter="url(#bl)"/>
<rect x="139.00" y="275.30" width="9.20" height="5.20" rx="2.60" fill="#0d0d0d" fill-opacity="1.00" filter="url(#bl)"/>
<rect x="150.34" y="276.47" width="5.52" height="2.86" rx="1.43" fill="#0d0d0d" fill-opacity="0.95" filter="url(#bl)"/>
<rect x="177.00" y="275.30" width="9.20" height="5.20" rx="2.60" fill="#0d0d0d" fill-opacity="1.00" filter="url(#bl)"/>
<rect x="186.50" y="275.30" width="9.20" height="5.20" rx="2.60" fill="#0d0d0d" fill-opacity="1.00" filter="url(#bl)"/>
<rect x="196.00" y="275.30" width="9.20" height="5.20" rx="2.60" fill="#0d0d0d" fill-opacity="1.00" filter="url(#bl)"/>
<rect x="205.50" y="275.30" width="9.20" height="5.20" rx="2.60" fill="#0d0d0d" fill-opacity="1.00" filter="url(#bl)"/>
<rect x="215.55" y="275.73" width="8.10" height="4.34" rx="2.17" fill="#0d0d0d" fill-opacity="0.90" filter="url(#bl)"/>
<rect x="42.60" y="287.40" width="200.10" height="11.20" fill="#e0e0e0" stroke="#262626" stroke-width="1.25"/>
<text x="40.20" y="295.80" font-size="8.69" text-anchor="end" transform="translate(40.20 295.80) scale(0.9091 1) translate(-40.20 -295.80)" fill="#050505">AKT</text>
<rect x="44.45" y="291.00" width="8.30" height="4.60" rx="2.30" fill="#0d0d0d" fill-opacity="1.00" filter="url(#bl)"/>
<rect x="53.95" y="291.00" width="8.30" height="4.60" rx="2.30" fill="#0d0d0d" fill-opacity="1.00" filter="url(#bl)"/>
<rect x="63.45" y="291.00" width="8.30" height="4.60" rx="2.30" fill="#0d0d0d" fill-opacity="1.00" filter="url(#bl)"/>
<rect x="72.95" y="291.00" width="8.30" height="4.60" rx="2.30" fill="#0d0d0d" fill-opacity="1.00" filter="url(#bl)"/>
<rect x="82.45" y="291.00" width="8.30" height="4.60" rx="2.30" fill="#0d0d0d" fill-opacity="1.00" filter="url(#bl)"/>
<rect x="91.95" y="291.00" width="8.30" height="4.60" rx="2.30" fill="#0d0d0d" fill-opacity="1.00" filter="url(#bl)"/>
<rect x="101.45" y="291.00" width="8.30" height="4.60" rx="2.30" fill="#0d0d0d" fill-opacity="1.00" filter="url(#bl)"/>
<rect x="110.95" y="291.00" width="8.30" height="4.60" rx="2.30" fill="#0d0d0d" fill-opacity="1.00" filter="url(#bl)"/>
<rect x="120.45" y="291.00" width="8.30" height="4.60" rx="2.30" fill="#0d0d0d" fill-opacity="1.00" filter="url(#bl)"/>
<rect x="129.95" y="291.00" width="8.30" height="4.60" rx="2.30" fill="#0d0d0d" fill-opacity="1.00" filter="url(#bl)"/>
<rect x="139.45" y="291.00" width="8.30" height="4.60" rx="2.30" fill="#0d0d0d" fill-opacity="1.00" filter="url(#bl)"/>
<rect x="148.95" y="291.00" width="8.30" height="4.60" rx="2.30" fill="#0d0d0d" fill-opacity="1.00" filter="url(#bl)"/>
<rect x="158.45" y="291.00" width="8.30" height="4.60" rx="2.30" fill="#0d0d0d" fill-opacity="1.00" filter="url(#bl)"/>
<rect x="167.95" y="291.00" width="8.30" height="4.60" rx="2.30" fill="#0d0d0d" fill-opacity="1.00" filter="url(#bl)"/>
<rect x="177.45" y="291.00" width="8.30" height="4.60" rx="2.30" fill="#0d0d0d" fill-opacity="1.00" filter="url(#bl)"/>
<rect x="186.95" y="291.00" width="8.30" height="4.60" rx="2.30" fill="#0d0d0d" fill-opacity="1.00" filter="url(#bl)"/>
<rect x="196.45" y="291.00" width="8.30" height="4.60" rx="2.30" fill="#0d0d0d" fill-opacity="1.00" filter="url(#bl)"/>
<rect x="205.95" y="291.00" width="8.30" height="4.60" rx="2.30" fill="#0d0d0d" fill-opacity="1.00" filter="url(#bl)"/>
<rect x="215.45" y="291.00" width="8.30" height="4.60" rx="2.30" fill="#0d0d0d" fill-opacity="1.00" filter="url(#bl)"/>
<rect x="224.95" y="291.00" width="8.30" height="4.60" rx="2.30" fill="#0d0d0d" fill-opacity="1.00" filter="url(#bl)"/>
<rect x="234.45" y="291.00" width="8.30" height="4.60" rx="2.30" fill="#0d0d0d" fill-opacity="1.00" filter="url(#bl)"/>
<text x="145.00" y="312.90" font-size="8.25" text-anchor="middle" transform="translate(145.00 312.90) scale(0.9091 1) translate(-145.00 -312.90)" fill="#050505">EVSA-T</text>
<text x="93.75" y="321.30" font-size="8.25" text-anchor="middle" transform="translate(93.75 321.30) scale(0.9091 1) translate(-93.75 -321.30)" fill="#050505">Parental</text>
<text x="195.00" y="321.30" font-size="8.25" text-anchor="middle" transform="translate(195.00 321.30) scale(0.9091 1) translate(-195.00 -321.30)" fill="#050505">Clone1</text>
<line x1="44.50" y1="329.30" x2="141.30" y2="329.30" stroke="#111" stroke-width="1.6"/>
<line x1="147.00" y1="329.30" x2="243.80" y2="329.30" stroke="#111" stroke-width="1.6"/>
<text x="70.00" y="342.60" font-size="8.25" text-anchor="middle" transform="translate(70.00 342.60) scale(0.9091 1) translate(-70.00 -342.60)" fill="#050505">GDC-0349</text>
<text x="118.50" y="342.60" font-size="8.25" text-anchor="middle" transform="translate(118.50 342.60) scale(0.9091 1) translate(-118.50 -342.60)" fill="#050505">GDC-0068</text>
<text x="171.25" y="342.60" font-size="8.25" text-anchor="middle" transform="translate(171.25 342.60) scale(0.9091 1) translate(-171.25 -342.60)" fill="#050505">GDC-0349</text>
<text x="220.00" y="342.60" font-size="8.25" text-anchor="middle" transform="translate(220.00 342.60) scale(0.9091 1) translate(-220.00 -342.60)" fill="#050505">GDC-0068</text>
<line x1="44.50" y1="347.50" x2="91.30" y2="347.50" stroke="#111" stroke-width="1.6"/>
<line x1="94.50" y1="347.50" x2="141.30" y2="347.50" stroke="#111" stroke-width="1.6"/>
<line x1="147.00" y1="347.50" x2="193.00" y2="347.50" stroke="#111" stroke-width="1.6"/>
<line x1="197.00" y1="347.50" x2="243.80" y2="347.50" stroke="#111" stroke-width="1.6"/>
<text x="41.40" y="368.30" font-size="8.25" text-anchor="end" transform="translate(41.40 368.30) scale(0.9091 1) translate(-41.40 -368.30)" fill="#050505">(µmol/L)</text>
<text x="50.30" y="368.50" font-size="7.30" text-anchor="start" transform="rotate(-90 50.30 368.50)" fill="#050505">0</text>
<text x="152.30" y="368.50" font-size="7.30" text-anchor="start" transform="rotate(-90 152.30 368.50)" fill="#050505">0</text>
<text x="58.60" y="368.50" font-size="7.30" text-anchor="start" transform="rotate(-90 58.60 368.50)" fill="#050505">0.03</text>
<text x="160.63" y="368.50" font-size="7.30" text-anchor="start" transform="rotate(-90 160.63 368.50)" fill="#050505">0.03</text>
<text x="66.90" y="368.50" font-size="7.30" text-anchor="start" transform="rotate(-90 66.90 368.50)" fill="#050505">0.1</text>
<text x="168.96" y="368.50" font-size="7.30" text-anchor="start" transform="rotate(-90 168.96 368.50)" fill="#050505">0.1</text>
<text x="75.20" y="368.50" font-size="7.30" text-anchor="start" transform="rotate(-90 75.20 368.50)" fill="#050505">0.3</text>
<text x="177.29" y="368.50" font-size="7.30" text-anchor="start" transform="rotate(-90 177.29 368.50)" fill="#050505">0.3</text>
<text x="83.50" y="368.50" font-size="7.30" text-anchor="start" transform="rotate(-90 83.50 368.50)" fill="#050505">1</text>
<text x="185.62" y="368.50" font-size="7.30" text-anchor="start" transform="rotate(-90 185.62 368.50)" fill="#050505">1</text>
<text x="91.80" y="368.50" font-size="7.30" text-anchor="start" transform="rotate(-90 91.80 368.50)" fill="#050505">3</text>
<text x="193.95" y="368.50" font-size="7.30" text-anchor="start" transform="rotate(-90 193.95 368.50)" fill="#050505">3</text>
<text x="100.10" y="368.50" font-size="7.30" text-anchor="start" transform="rotate(-90 100.10 368.50)" fill="#050505">0</text>
<text x="202.28" y="368.50" font-size="7.30" text-anchor="start" transform="rotate(-90 202.28 368.50)" fill="#050505">0</text>
<text x="108.40" y="368.50" font-size="7.30" text-anchor="start" transform="rotate(-90 108.40 368.50)" fill="#050505">0.03</text>
<text x="210.61" y="368.50" font-size="7.30" text-anchor="start" transform="rotate(-90 210.61 368.50)" fill="#050505">0.03</text>
<text x="116.70" y="368.50" font-size="7.30" text-anchor="start" transform="rotate(-90 116.70 368.50)" fill="#050505">0.1</text>
<text x="218.94" y="368.50" font-size="7.30" text-anchor="start" transform="rotate(-90 218.94 368.50)" fill="#050505">0.1</text>
<text x="125.00" y="368.50" font-size="7.30" text-anchor="start" transform="rotate(-90 125.00 368.50)" fill="#050505">0.3</text>
<text x="227.27" y="368.50" font-size="7.30" text-anchor="start" transform="rotate(-90 227.27 368.50)" fill="#050505">0.3</text>
<text x="133.30" y="368.50" font-size="7.30" text-anchor="start" transform="rotate(-90 133.30 368.50)" fill="#050505">1</text>
<text x="235.60" y="368.50" font-size="7.30" text-anchor="start" transform="rotate(-90 235.60 368.50)" fill="#050505">1</text>
<text x="141.60" y="368.50" font-size="7.30" text-anchor="start" transform="rotate(-90 141.60 368.50)" fill="#050505">3</text>
<text x="243.93" y="368.50" font-size="7.30" text-anchor="start" transform="rotate(-90 243.93 368.50)" fill="#050505">3</text>
<rect x="42.40" y="373.80" width="100.60" height="12.10" fill="#e3e3e3" stroke="#262626" stroke-width="1.25"/>
<rect x="145.40" y="373.80" width="99.80" height="12.10" fill="#e3e3e3" stroke="#262626" stroke-width="1.25"/>
<text x="40.80" y="382.65" font-size="8.69" text-anchor="end" transform="translate(40.80 382.65) scale(0.9091 1) translate(-40.80 -382.65)" fill="#050505">pS473 AKT</text>
<rect x="44.27" y="378.43" width="6.86" height="2.84" rx="1.42" fill="#0d0d0d" fill-opacity="0.90" filter="url(#bl)"/>
<rect x="146.11" y="378.34" width="7.18" height="3.03" rx="1.51" fill="#0d0d0d" fill-opacity="1.00" filter="url(#bl)"/>
<rect x="52.80" y="378.57" width="6.40" height="2.56" rx="1.28" fill="#0d0d0d" fill-opacity="0.73" filter="url(#bl)"/>
<rect x="154.83" y="378.57" width="6.40" height="2.56" rx="1.28" fill="#0d0d0d" fill-opacity="0.73" filter="url(#bl)"/>
<rect x="61.10" y="378.57" width="6.40" height="2.56" rx="1.28" fill="#0d0d0d" fill-opacity="0.73" filter="url(#bl)"/>
<rect x="163.08" y="378.52" width="6.55" height="2.65" rx="1.33" fill="#0d0d0d" fill-opacity="0.79" filter="url(#bl)"/>
<rect x="69.48" y="378.62" width="6.24" height="2.47" rx="1.23" fill="#0d0d0d" fill-opacity="0.67" filter="url(#bl)"/>
<rect x="171.57" y="378.62" width="6.24" height="2.47" rx="1.23" fill="#0d0d0d" fill-opacity="0.67" filter="url(#bl)"/>
<rect x="77.78" y="378.62" width="6.24" height="2.47" rx="1.23" fill="#0d0d0d" fill-opacity="0.67" filter="url(#bl)"/>
<rect x="179.98" y="378.66" width="6.08" height="2.37" rx="1.19" fill="#0d0d0d" fill-opacity="0.62" filter="url(#bl)"/>
<rect x="86.67" y="378.97" width="5.05" height="1.75" rx="0.88" fill="#0d0d0d" fill-opacity="0.24" filter="url(#bl)"/>
<rect x="188.73" y="378.92" width="5.24" height="1.87" rx="0.93" fill="#0d0d0d" fill-opacity="0.31" filter="url(#bl)"/>
<rect x="93.83" y="378.29" width="7.33" height="3.12" rx="1.56" fill="#0d0d0d" fill-opacity="1.00" filter="url(#bl)"/>
<rect x="196.12" y="378.36" width="7.11" height="2.99" rx="1.49" fill="#0d0d0d" fill-opacity="1.00" filter="url(#bl)"/>
<rect x="102.06" y="378.24" width="7.49" height="3.21" rx="1.61" fill="#0d0d0d" fill-opacity="1.00" filter="url(#bl)"/>
<rect x="204.34" y="378.29" width="7.33" height="3.12" rx="1.56" fill="#0d0d0d" fill-opacity="1.00" filter="url(#bl)"/>
<rect x="110.36" y="378.24" width="7.49" height="3.21" rx="1.61" fill="#0d0d0d" fill-opacity="1.00" filter="url(#bl)"/>
<rect x="212.67" y="378.29" width="7.33" height="3.12" rx="1.56" fill="#0d0d0d" fill-opacity="1.00" filter="url(#bl)"/>
<rect x="118.66" y="378.24" width="7.49" height="3.21" rx="1.61" fill="#0d0d0d" fill-opacity="1.00" filter="url(#bl)"/>
<rect x="221.00" y="378.29" width="7.33" height="3.12" rx="1.56" fill="#0d0d0d" fill-opacity="1.00" filter="url(#bl)"/>
<rect x="126.96" y="378.24" width="7.49" height="3.21" rx="1.61" fill="#0d0d0d" fill-opacity="1.00" filter="url(#bl)"/>
<rect x="229.33" y="378.29" width="7.33" height="3.12" rx="1.56" fill="#0d0d0d" fill-opacity="1.00" filter="url(#bl)"/>
<rect x="135.33" y="378.29" width="7.33" height="3.12" rx="1.56" fill="#0d0d0d" fill-opacity="1.00" filter="url(#bl)"/>
<rect x="237.66" y="378.29" width="7.33" height="3.12" rx="1.56" fill="#0d0d0d" fill-opacity="1.00" filter="url(#bl)"/>
<rect x="42.40" y="390.30" width="100.60" height="10.70" fill="#e3e3e3" stroke="#262626" stroke-width="1.25"/>
<rect x="145.40" y="390.30" width="99.80" height="10.70" fill="#e3e3e3" stroke="#262626" stroke-width="1.25"/>
<text x="40.80" y="398.45" font-size="8.69" text-anchor="end" transform="translate(40.80 398.45) scale(0.9091 1) translate(-40.80 -398.45)" fill="#050505">AKT</text>
<rect x="43.88" y="394.19" width="7.64" height="2.92" rx="1.46" fill="#0d0d0d" fill-opacity="1.00" filter="url(#bl)"/>
<rect x="145.88" y="394.19" width="7.64" height="2.92" rx="1.46" fill="#0d0d0d" fill-opacity="1.00" filter="url(#bl)"/>
<rect x="52.18" y="394.19" width="7.64" height="2.92" rx="1.46" fill="#0d0d0d" fill-opacity="1.00" filter="url(#bl)"/>
<rect x="154.21" y="394.19" width="7.64" height="2.92" rx="1.46" fill="#0d0d0d" fill-opacity="1.00" filter="url(#bl)"/>
<rect x="60.48" y="394.19" width="7.64" height="2.92" rx="1.46" fill="#0d0d0d" fill-opacity="1.00" filter="url(#bl)"/>
<rect x="162.54" y="394.19" width="7.64" height="2.92" rx="1.46" fill="#0d0d0d" fill-opacity="1.00" filter="url(#bl)"/>
<rect x="68.78" y="394.19" width="7.64" height="2.92" rx="1.46" fill="#0d0d0d" fill-opacity="1.00" filter="url(#bl)"/>
<rect x="170.87" y="394.19" width="7.64" height="2.92" rx="1.46" fill="#0d0d0d" fill-opacity="1.00" filter="url(#bl)"/>
<rect x="77.08" y="394.19" width="7.64" height="2.92" rx="1.46" fill="#0d0d0d" fill-opacity="1.00" filter="url(#bl)"/>
<rect x="179.20" y="394.19" width="7.64" height="2.92" rx="1.46" fill="#0d0d0d" fill-opacity="1.00" filter="url(#bl)"/>
<rect x="85.38" y="394.19" width="7.64" height="2.92" rx="1.46" fill="#0d0d0d" fill-opacity="1.00" filter="url(#bl)"/>
<rect x="187.53" y="394.19" width="7.64" height="2.92" rx="1.46" fill="#0d0d0d" fill-opacity="1.00" filter="url(#bl)"/>
<rect x="93.68" y="394.19" width="7.64" height="2.92" rx="1.46" fill="#0d0d0d" fill-opacity="1.00" filter="url(#bl)"/>
<rect x="195.86" y="394.19" width="7.64" height="2.92" rx="1.46" fill="#0d0d0d" fill-opacity="1.00" filter="url(#bl)"/>
<rect x="101.98" y="394.19" width="7.64" height="2.92" rx="1.46" fill="#0d0d0d" fill-opacity="1.00" filter="url(#bl)"/>
<rect x="204.19" y="394.19" width="7.64" height="2.92" rx="1.46" fill="#0d0d0d" fill-opacity="1.00" filter="url(#bl)"/>
<rect x="110.28" y="394.19" width="7.64" height="2.92" rx="1.46" fill="#0d0d0d" fill-opacity="1.00" filter="url(#bl)"/>
<rect x="212.52" y="394.19" width="7.64" height="2.92" rx="1.46" fill="#0d0d0d" fill-opacity="1.00" filter="url(#bl)"/>
<rect x="118.58" y="394.19" width="7.64" height="2.92" rx="1.46" fill="#0d0d0d" fill-opacity="1.00" filter="url(#bl)"/>
<rect x="220.85" y="394.19" width="7.64" height="2.92" rx="1.46" fill="#0d0d0d" fill-opacity="1.00" filter="url(#bl)"/>
<rect x="126.88" y="394.19" width="7.64" height="2.92" rx="1.46" fill="#0d0d0d" fill-opacity="1.00" filter="url(#bl)"/>
<rect x="229.18" y="394.19" width="7.64" height="2.92" rx="1.46" fill="#0d0d0d" fill-opacity="1.00" filter="url(#bl)"/>
<rect x="135.18" y="394.19" width="7.64" height="2.92" rx="1.46" fill="#0d0d0d" fill-opacity="1.00" filter="url(#bl)"/>
<rect x="237.51" y="394.19" width="7.64" height="2.92" rx="1.46" fill="#0d0d0d" fill-opacity="1.00" filter="url(#bl)"/>
<rect x="42.40" y="406.30" width="100.60" height="11.20" fill="#e3e3e3" stroke="#262626" stroke-width="1.25"/>
<rect x="145.40" y="406.30" width="99.80" height="11.20" fill="#e3e3e3" stroke="#262626" stroke-width="1.25"/>
<text x="40.80" y="414.70" font-size="8.69" text-anchor="end" transform="translate(40.80 414.70) scale(0.9091 1) translate(-40.80 -414.70)" fill="#050505">pS235/6 S6</text>
<rect x="43.88" y="410.25" width="7.64" height="3.31" rx="1.65" fill="#0d0d0d" fill-opacity="1.00" filter="url(#bl)"/>
<rect x="145.96" y="410.29" width="7.49" height="3.21" rx="1.61" fill="#0d0d0d" fill-opacity="1.00" filter="url(#bl)"/>
<rect x="52.88" y="410.67" width="6.24" height="2.47" rx="1.23" fill="#0d0d0d" fill-opacity="0.67" filter="url(#bl)"/>
<rect x="154.60" y="410.48" width="6.86" height="2.84" rx="1.42" fill="#0d0d0d" fill-opacity="0.90" filter="url(#bl)"/>
<rect x="61.73" y="410.99" width="5.15" height="1.81" rx="0.91" fill="#0d0d0d" fill-opacity="0.27" filter="url(#bl)"/>
<rect x="163.24" y="410.67" width="6.24" height="2.47" rx="1.23" fill="#0d0d0d" fill-opacity="0.67" filter="url(#bl)"/>
<rect x="172.16" y="411.02" width="5.05" height="1.75" rx="0.88" fill="#0d0d0d" fill-opacity="0.24" filter="url(#bl)"/>
<rect x="93.68" y="410.25" width="7.64" height="3.31" rx="1.65" fill="#0d0d0d" fill-opacity="1.00" filter="url(#bl)"/>
<rect x="196.01" y="410.34" width="7.33" height="3.12" rx="1.56" fill="#0d0d0d" fill-opacity="1.00" filter="url(#bl)"/>
<rect x="103.15" y="410.95" width="5.30" height="1.90" rx="0.95" fill="#0d0d0d" fill-opacity="0.33" filter="url(#bl)"/>
<rect x="205.36" y="410.95" width="5.30" height="1.90" rx="0.95" fill="#0d0d0d" fill-opacity="0.33" filter="url(#bl)"/>
<rect x="42.40" y="422.30" width="100.60" height="11.00" fill="#e3e3e3" stroke="#262626" stroke-width="1.25"/>
<rect x="145.40" y="422.30" width="99.80" height="11.00" fill="#e3e3e3" stroke="#262626" stroke-width="1.25"/>
<text x="40.80" y="430.60" font-size="8.69" text-anchor="end" transform="translate(40.80 430.60) scale(0.9091 1) translate(-40.80 -430.60)" fill="#050505">S6</text>
<rect x="43.88" y="426.29" width="7.64" height="3.01" rx="1.51" fill="#0d0d0d" fill-opacity="1.00" filter="url(#bl)"/>
<rect x="145.88" y="426.29" width="7.64" height="3.01" rx="1.51" fill="#0d0d0d" fill-opacity="1.00" filter="url(#bl)"/>
<rect x="52.18" y="426.29" width="7.64" height="3.01" rx="1.51" fill="#0d0d0d" fill-opacity="1.00" filter="url(#bl)"/>
<rect x="154.21" y="426.29" width="7.64" height="3.01" rx="1.51" fill="#0d0d0d" fill-opacity="1.00" filter="url(#bl)"/>
<rect x="60.48" y="426.29" width="7.64" height="3.01" rx="1.51" fill="#0d0d0d" fill-opacity="1.00" filter="url(#bl)"/>
<rect x="162.54" y="426.29" width="7.64" height="3.01" rx="1.51" fill="#0d0d0d" fill-opacity="1.00" filter="url(#bl)"/>
<rect x="68.78" y="426.29" width="7.64" height="3.01" rx="1.51" fill="#0d0d0d" fill-opacity="1.00" filter="url(#bl)"/>
<rect x="170.87" y="426.29" width="7.64" height="3.01" rx="1.51" fill="#0d0d0d" fill-opacity="1.00" filter="url(#bl)"/>
<rect x="77.08" y="426.29" width="7.64" height="3.01" rx="1.51" fill="#0d0d0d" fill-opacity="1.00" filter="url(#bl)"/>
<rect x="179.20" y="426.29" width="7.64" height="3.01" rx="1.51" fill="#0d0d0d" fill-opacity="1.00" filter="url(#bl)"/>
<rect x="85.38" y="426.29" width="7.64" height="3.01" rx="1.51" fill="#0d0d0d" fill-opacity="1.00" filter="url(#bl)"/>
<rect x="187.53" y="426.29" width="7.64" height="3.01" rx="1.51" fill="#0d0d0d" fill-opacity="1.00" filter="url(#bl)"/>
<rect x="93.68" y="426.29" width="7.64" height="3.01" rx="1.51" fill="#0d0d0d" fill-opacity="1.00" filter="url(#bl)"/>
<rect x="195.86" y="426.29" width="7.64" height="3.01" rx="1.51" fill="#0d0d0d" fill-opacity="1.00" filter="url(#bl)"/>
<rect x="101.98" y="426.29" width="7.64" height="3.01" rx="1.51" fill="#0d0d0d" fill-opacity="1.00" filter="url(#bl)"/>
<rect x="204.19" y="426.29" width="7.64" height="3.01" rx="1.51" fill="#0d0d0d" fill-opacity="1.00" filter="url(#bl)"/>
<rect x="110.28" y="426.29" width="7.64" height="3.01" rx="1.51" fill="#0d0d0d" fill-opacity="1.00" filter="url(#bl)"/>
<rect x="212.52" y="426.29" width="7.64" height="3.01" rx="1.51" fill="#0d0d0d" fill-opacity="1.00" filter="url(#bl)"/>
<rect x="118.58" y="426.29" width="7.64" height="3.01" rx="1.51" fill="#0d0d0d" fill-opacity="1.00" filter="url(#bl)"/>
<rect x="220.85" y="426.29" width="7.64" height="3.01" rx="1.51" fill="#0d0d0d" fill-opacity="1.00" filter="url(#bl)"/>
<rect x="126.88" y="426.29" width="7.64" height="3.01" rx="1.51" fill="#0d0d0d" fill-opacity="1.00" filter="url(#bl)"/>
<rect x="229.18" y="426.29" width="7.64" height="3.01" rx="1.51" fill="#0d0d0d" fill-opacity="1.00" filter="url(#bl)"/>
<rect x="135.18" y="426.29" width="7.64" height="3.01" rx="1.51" fill="#0d0d0d" fill-opacity="1.00" filter="url(#bl)"/>
<rect x="237.51" y="426.29" width="7.64" height="3.01" rx="1.51" fill="#0d0d0d" fill-opacity="1.00" filter="url(#bl)"/>
<text x="277.00" y="209.40" font-size="12.90" text-anchor="start" font-weight="bold" fill="#000">C</text>
<rect x="294.70" y="342.65" width="1.50" height="5.75" fill="#5566b0"/>
<rect x="296.25" y="259.21" width="1.50" height="89.19" fill="#dc6f66"/>
<rect x="297.80" y="295.88" width="1.50" height="52.52" fill="#6aa878"/>
<rect x="299.35" y="277.28" width="1.50" height="71.12" fill="#7d63a8"/>
<rect x="300.90" y="295.88" width="1.50" height="52.52" fill="#eb9a6a"/>
<rect x="302.45" y="271.96" width="1.50" height="76.44" fill="#1a1a1a"/>
<line x1="299.30" y1="348.25" x2="299.30" y2="350.60" stroke="#111" stroke-width="0.8"/>
<text x="301.90" y="355.40" font-size="7.65" text-anchor="end" transform="rotate(-90 301.90 355.40)" fill="#050505">GDC-0941</text>
<rect x="305.40" y="343.19" width="1.50" height="5.21" fill="#5566b0"/>
<rect x="306.95" y="317.67" width="1.50" height="30.73" fill="#dc6f66"/>
<rect x="308.50" y="302.79" width="1.50" height="45.61" fill="#6aa878"/>
<rect x="310.05" y="303.32" width="1.50" height="45.08" fill="#7d63a8"/>
<rect x="311.60" y="308.64" width="1.50" height="39.76" fill="#eb9a6a"/>
<rect x="313.15" y="312.36" width="1.50" height="36.04" fill="#1a1a1a"/>
<line x1="310.00" y1="348.25" x2="310.00" y2="350.60" stroke="#111" stroke-width="0.8"/>
<text x="312.60" y="355.40" font-size="7.65" text-anchor="end" transform="rotate(-90 312.60 355.40)" fill="#050505">CH5132799</text>
<rect x="316.10" y="343.19" width="1.50" height="5.21" fill="#5566b0"/>
<rect x="317.65" y="252.30" width="1.50" height="96.10" fill="#dc6f66"/>
<rect x="319.20" y="254.42" width="1.50" height="93.98" fill="#6aa878"/>
<rect x="320.75" y="246.45" width="1.50" height="101.95" fill="#7d63a8"/>
<rect x="322.30" y="253.89" width="1.50" height="94.51" fill="#eb9a6a"/>
<rect x="323.85" y="251.77" width="1.50" height="96.63" fill="#1a1a1a"/>
<line x1="320.70" y1="348.25" x2="320.70" y2="350.60" stroke="#111" stroke-width="0.8"/>
<text x="323.30" y="355.40" font-size="7.65" text-anchor="end" transform="rotate(-90 323.30 355.40)" fill="#050505">GDC-0032</text>
<rect x="326.80" y="343.19" width="1.50" height="5.21" fill="#5566b0"/>
<rect x="328.35" y="316.08" width="1.50" height="32.32" fill="#dc6f66"/>
<rect x="329.90" y="320.33" width="1.50" height="28.07" fill="#6aa878"/>
<rect x="331.45" y="324.58" width="1.50" height="23.82" fill="#7d63a8"/>
<rect x="333.00" y="327.77" width="1.50" height="20.63" fill="#eb9a6a"/>
<rect x="334.55" y="321.93" width="1.50" height="26.47" fill="#1a1a1a"/>
<line x1="331.40" y1="348.25" x2="331.40" y2="350.60" stroke="#111" stroke-width="0.8"/>
<text x="334.00" y="355.40" font-size="7.65" text-anchor="end" transform="rotate(-90 334.00 355.40)" fill="#050505">GDC-0980</text>
<rect x="337.50" y="343.19" width="1.50" height="5.21" fill="#5566b0"/>
<rect x="339.05" y="291.63" width="1.50" height="56.77" fill="#dc6f66"/>
<rect x="340.60" y="320.86" width="1.50" height="27.54" fill="#6aa878"/>
<rect x="342.15" y="310.23" width="1.50" height="38.17" fill="#7d63a8"/>
<rect x="343.70" y="311.30" width="1.50" height="37.10" fill="#eb9a6a"/>
<rect x="345.25" y="311.30" width="1.50" height="37.10" fill="#1a1a1a"/>
<line x1="342.10" y1="348.25" x2="342.10" y2="350.60" stroke="#111" stroke-width="0.8"/>
<text x="344.70" y="355.40" font-size="7.65" text-anchor="end" transform="rotate(-90 344.70 355.40)" fill="#050505">TGX-221</text>
<rect x="348.20" y="343.19" width="1.50" height="5.21" fill="#5566b0"/>
<rect x="349.75" y="318.20" width="1.50" height="30.20" fill="#dc6f66"/>
<rect x="351.30" y="320.86" width="1.50" height="27.54" fill="#6aa878"/>
<rect x="352.85" y="327.77" width="1.50" height="20.63" fill="#7d63a8"/>
<rect x="354.40" y="329.37" width="1.50" height="19.03" fill="#eb9a6a"/>
<rect x="355.95" y="326.18" width="1.50" height="22.22" fill="#1a1a1a"/>
<line x1="352.80" y1="348.25" x2="352.80" y2="350.60" stroke="#111" stroke-width="0.8"/>
<text x="355.40" y="355.40" font-size="7.65" text-anchor="end" transform="rotate(-90 355.40 355.40)" fill="#050505">AZD6482</text>
<rect x="358.90" y="343.19" width="1.50" height="5.21" fill="#5566b0"/>
<rect x="360.45" y="309.70" width="1.50" height="38.70" fill="#dc6f66"/>
<rect x="362.00" y="316.61" width="1.50" height="31.79" fill="#6aa878"/>
<rect x="363.55" y="313.42" width="1.50" height="34.98" fill="#7d63a8"/>
<rect x="365.10" y="312.36" width="1.50" height="36.04" fill="#eb9a6a"/>
<rect x="366.65" y="319.80" width="1.50" height="28.60" fill="#1a1a1a"/>
<line x1="363.50" y1="348.25" x2="363.50" y2="350.60" stroke="#111" stroke-width="0.8"/>
<text x="366.10" y="355.40" font-size="7.65" text-anchor="end" transform="rotate(-90 366.10 355.40)" fill="#050505">GSK2636771</text>
<rect x="369.60" y="343.19" width="1.50" height="5.21" fill="#5566b0"/>
<rect x="371.15" y="341.06" width="1.50" height="7.34" fill="#dc6f66"/>
<rect x="372.70" y="342.12" width="1.50" height="6.28" fill="#6aa878"/>
<rect x="374.25" y="342.65" width="1.50" height="5.75" fill="#7d63a8"/>
<rect x="375.80" y="342.12" width="1.50" height="6.28" fill="#eb9a6a"/>
<rect x="377.35" y="343.19" width="1.50" height="5.21" fill="#1a1a1a"/>
<line x1="374.20" y1="348.25" x2="374.20" y2="350.60" stroke="#111" stroke-width="0.8"/>
<text x="376.80" y="355.40" font-size="7.65" text-anchor="end" transform="rotate(-90 376.80 355.40)" fill="#050505">GDC-0068</text>
<rect x="380.30" y="343.19" width="1.50" height="5.21" fill="#5566b0"/>
<rect x="381.85" y="342.65" width="1.50" height="5.75" fill="#dc6f66"/>
<rect x="383.40" y="340.53" width="1.50" height="7.87" fill="#6aa878"/>
<rect x="384.95" y="342.12" width="1.50" height="6.28" fill="#7d63a8"/>
<rect x="386.50" y="341.59" width="1.50" height="6.81" fill="#eb9a6a"/>
<rect x="388.05" y="339.46" width="1.50" height="8.94" fill="#1a1a1a"/>
<line x1="384.90" y1="348.25" x2="384.90" y2="350.60" stroke="#111" stroke-width="0.8"/>
<text x="387.50" y="355.40" font-size="7.65" text-anchor="end" transform="rotate(-90 387.50 355.40)" fill="#050505">GDC-0349</text>
<rect x="391.00" y="343.19" width="1.50" height="5.21" fill="#5566b0"/>
<rect x="392.55" y="342.65" width="1.50" height="5.75" fill="#dc6f66"/>
<rect x="394.10" y="342.65" width="1.50" height="5.75" fill="#6aa878"/>
<rect x="395.65" y="342.65" width="1.50" height="5.75" fill="#7d63a8"/>
<rect x="397.20" y="342.65" width="1.50" height="5.75" fill="#eb9a6a"/>
<rect x="398.75" y="342.65" width="1.50" height="5.75" fill="#1a1a1a"/>
<line x1="395.60" y1="348.25" x2="395.60" y2="350.60" stroke="#111" stroke-width="0.8"/>
<text x="398.20" y="355.40" font-size="7.65" text-anchor="end" transform="rotate(-90 398.20 355.40)" fill="#050505">VX-11e</text>
<rect x="401.70" y="343.19" width="1.50" height="5.21" fill="#5566b0"/>
<rect x="403.25" y="342.65" width="1.50" height="5.75" fill="#dc6f66"/>
<rect x="404.80" y="342.65" width="1.50" height="5.75" fill="#6aa878"/>
<rect x="406.35" y="342.65" width="1.50" height="5.75" fill="#7d63a8"/>
<rect x="407.90" y="342.65" width="1.50" height="5.75" fill="#eb9a6a"/>
<rect x="409.45" y="342.65" width="1.50" height="5.75" fill="#1a1a1a"/>
<line x1="406.30" y1="348.25" x2="406.30" y2="350.60" stroke="#111" stroke-width="0.8"/>
<text x="408.90" y="355.40" font-size="7.65" text-anchor="end" transform="rotate(-90 408.90 355.40)" fill="#050505">PD0325901</text>
<rect x="412.40" y="343.19" width="1.50" height="5.21" fill="#5566b0"/>
<rect x="413.95" y="343.19" width="1.50" height="5.21" fill="#dc6f66"/>
<rect x="415.50" y="342.65" width="1.50" height="5.75" fill="#6aa878"/>
<rect x="417.05" y="343.72" width="1.50" height="4.68" fill="#7d63a8"/>
<rect x="418.60" y="344.25" width="1.50" height="4.15" fill="#eb9a6a"/>
<rect x="420.15" y="342.65" width="1.50" height="5.75" fill="#1a1a1a"/>
<line x1="417.00" y1="348.25" x2="417.00" y2="350.60" stroke="#111" stroke-width="0.8"/>
<text x="419.60" y="355.40" font-size="7.65" text-anchor="end" transform="rotate(-90 419.60 355.40)" fill="#050505">PD173074</text>
<rect x="423.10" y="343.19" width="1.50" height="5.21" fill="#5566b0"/>
<rect x="424.65" y="342.65" width="1.50" height="5.75" fill="#dc6f66"/>
<rect x="426.20" y="343.19" width="1.50" height="5.21" fill="#6aa878"/>
<rect x="427.75" y="343.19" width="1.50" height="5.21" fill="#7d63a8"/>
<rect x="429.30" y="343.72" width="1.50" height="4.68" fill="#eb9a6a"/>
<rect x="430.85" y="344.25" width="1.50" height="4.15" fill="#1a1a1a"/>
<line x1="427.70" y1="348.25" x2="427.70" y2="350.60" stroke="#111" stroke-width="0.8"/>
<text x="430.30" y="355.40" font-size="7.65" text-anchor="end" transform="rotate(-90 430.30 355.40)" fill="#050505">crizotinib</text>
<rect x="433.80" y="343.19" width="1.50" height="5.21" fill="#5566b0"/>
<rect x="435.35" y="342.12" width="1.50" height="6.28" fill="#dc6f66"/>
<rect x="436.90" y="342.12" width="1.50" height="6.28" fill="#6aa878"/>
<rect x="438.45" y="342.12" width="1.50" height="6.28" fill="#7d63a8"/>
<rect x="440.00" y="342.12" width="1.50" height="6.28" fill="#eb9a6a"/>
<rect x="441.55" y="342.12" width="1.50" height="6.28" fill="#1a1a1a"/>
<line x1="438.40" y1="348.25" x2="438.40" y2="350.60" stroke="#111" stroke-width="0.8"/>
<text x="441.00" y="355.40" font-size="7.65" text-anchor="end" transform="rotate(-90 441.00 355.40)" fill="#050505">lapatinib</text>
<rect x="444.50" y="343.19" width="1.50" height="5.21" fill="#5566b0"/>
<rect x="446.05" y="342.65" width="1.50" height="5.75" fill="#dc6f66"/>
<rect x="447.60" y="342.65" width="1.50" height="5.75" fill="#6aa878"/>
<rect x="449.15" y="342.65" width="1.50" height="5.75" fill="#7d63a8"/>
<rect x="450.70" y="342.65" width="1.50" height="5.75" fill="#eb9a6a"/>
<rect x="452.25" y="342.65" width="1.50" height="5.75" fill="#1a1a1a"/>
<line x1="449.10" y1="348.25" x2="449.10" y2="350.60" stroke="#111" stroke-width="0.8"/>
<text x="451.70" y="355.40" font-size="7.65" text-anchor="end" transform="rotate(-90 451.70 355.40)" fill="#050505">erlotinib</text>
<rect x="455.20" y="343.19" width="1.50" height="5.21" fill="#5566b0"/>
<rect x="456.75" y="342.65" width="1.50" height="5.75" fill="#dc6f66"/>
<rect x="458.30" y="342.65" width="1.50" height="5.75" fill="#6aa878"/>
<rect x="459.85" y="342.65" width="1.50" height="5.75" fill="#7d63a8"/>
<rect x="461.40" y="342.65" width="1.50" height="5.75" fill="#eb9a6a"/>
<rect x="462.95" y="342.65" width="1.50" height="5.75" fill="#1a1a1a"/>
<line x1="459.80" y1="348.25" x2="459.80" y2="350.60" stroke="#111" stroke-width="0.8"/>
<text x="462.40" y="355.40" font-size="7.65" text-anchor="end" transform="rotate(-90 462.40 355.40)" fill="#050505">linsitinib</text>
<rect x="465.90" y="343.19" width="1.50" height="5.21" fill="#5566b0"/>
<rect x="467.45" y="342.65" width="1.50" height="5.75" fill="#dc6f66"/>
<rect x="469.00" y="342.65" width="1.50" height="5.75" fill="#6aa878"/>
<rect x="470.55" y="342.65" width="1.50" height="5.75" fill="#7d63a8"/>
<rect x="472.10" y="342.65" width="1.50" height="5.75" fill="#eb9a6a"/>
<rect x="473.65" y="342.65" width="1.50" height="5.75" fill="#1a1a1a"/>
<line x1="470.50" y1="348.25" x2="470.50" y2="350.60" stroke="#111" stroke-width="0.8"/>
<text x="473.10" y="355.40" font-size="7.65" text-anchor="end" transform="rotate(-90 473.10 355.40)" fill="#050505">fulvestrant</text>
<rect x="476.60" y="343.19" width="1.50" height="5.21" fill="#5566b0"/>
<rect x="478.15" y="343.19" width="1.50" height="5.21" fill="#dc6f66"/>
<rect x="479.70" y="342.65" width="1.50" height="5.75" fill="#6aa878"/>
<rect x="481.25" y="343.19" width="1.50" height="5.21" fill="#7d63a8"/>
<rect x="482.80" y="343.72" width="1.50" height="4.68" fill="#eb9a6a"/>
<rect x="484.35" y="341.59" width="1.50" height="6.81" fill="#1a1a1a"/>
<line x1="481.20" y1="348.25" x2="481.20" y2="350.60" stroke="#111" stroke-width="0.8"/>
<text x="483.80" y="355.40" font-size="7.65" text-anchor="end" transform="rotate(-90 483.80 355.40)" fill="#050505">docetaxel</text>
<rect x="487.30" y="343.19" width="1.50" height="5.21" fill="#5566b0"/>
<rect x="488.85" y="341.59" width="1.50" height="6.81" fill="#dc6f66"/>
<rect x="490.40" y="342.65" width="1.50" height="5.75" fill="#6aa878"/>
<rect x="491.95" y="343.19" width="1.50" height="5.21" fill="#7d63a8"/>
<rect x="493.50" y="342.12" width="1.50" height="6.28" fill="#eb9a6a"/>
<rect x="495.05" y="339.46" width="1.50" height="8.94" fill="#1a1a1a"/>
<line x1="491.90" y1="348.25" x2="491.90" y2="350.60" stroke="#111" stroke-width="0.8"/>
<text x="494.50" y="355.40" font-size="7.65" text-anchor="end" transform="rotate(-90 494.50 355.40)" fill="#050505">paclitaxel</text>
<rect x="498.00" y="343.19" width="1.50" height="5.21" fill="#5566b0"/>
<rect x="499.55" y="342.65" width="1.50" height="5.75" fill="#dc6f66"/>
<rect x="501.10" y="343.19" width="1.50" height="5.21" fill="#6aa878"/>
<rect x="502.65" y="343.72" width="1.50" height="4.68" fill="#7d63a8"/>
<rect x="504.20" y="343.72" width="1.50" height="4.68" fill="#eb9a6a"/>
<rect x="505.75" y="343.19" width="1.50" height="5.21" fill="#1a1a1a"/>
<line x1="502.60" y1="348.25" x2="502.60" y2="350.60" stroke="#111" stroke-width="0.8"/>
<text x="505.20" y="355.40" font-size="7.65" text-anchor="end" transform="rotate(-90 505.20 355.40)" fill="#050505">doxorubicin</text>
<rect x="508.70" y="343.19" width="1.50" height="5.21" fill="#5566b0"/>
<rect x="510.25" y="343.19" width="1.50" height="5.21" fill="#dc6f66"/>
<rect x="511.80" y="344.25" width="1.50" height="4.15" fill="#6aa878"/>
<rect x="513.35" y="343.19" width="1.50" height="5.21" fill="#7d63a8"/>
<rect x="514.90" y="342.65" width="1.50" height="5.75" fill="#eb9a6a"/>
<rect x="516.45" y="340.53" width="1.50" height="7.87" fill="#1a1a1a"/>
<line x1="513.30" y1="348.25" x2="513.30" y2="350.60" stroke="#111" stroke-width="0.8"/>
<text x="515.90" y="355.40" font-size="7.65" text-anchor="end" transform="rotate(-90 515.90 355.40)" fill="#050505">SAHA</text>
<line x1="293.90" y1="241.80" x2="293.90" y2="348.90" stroke="#111" stroke-width="1.1"/>
<line x1="293.40" y1="348.40" x2="519.50" y2="348.40" stroke="#111" stroke-width="1.1"/>
<line x1="291.40" y1="348.50" x2="293.90" y2="348.50" stroke="#111" stroke-width="1"/>
<text x="290.30" y="351.50" font-size="9.02" text-anchor="end" transform="translate(290.30 351.50) scale(0.9091 1) translate(-290.30 -351.50)" fill="#050505">0</text>
<line x1="291.40" y1="321.93" x2="293.90" y2="321.93" stroke="#111" stroke-width="1"/>
<text x="290.30" y="324.93" font-size="9.02" text-anchor="end" transform="translate(290.30 324.93) scale(0.9091 1) translate(-290.30 -324.93)" fill="#050505">5</text>
<line x1="291.40" y1="295.35" x2="293.90" y2="295.35" stroke="#111" stroke-width="1"/>
<text x="290.30" y="298.35" font-size="9.02" text-anchor="end" transform="translate(290.30 298.35) scale(0.9091 1) translate(-290.30 -298.35)" fill="#050505">10</text>
<line x1="291.40" y1="268.77" x2="293.90" y2="268.77" stroke="#111" stroke-width="1"/>
<text x="290.30" y="271.77" font-size="9.02" text-anchor="end" transform="translate(290.30 271.77) scale(0.9091 1) translate(-290.30 -271.77)" fill="#050505">15</text>
<line x1="291.40" y1="242.20" x2="293.90" y2="242.20" stroke="#111" stroke-width="1"/>
<text x="290.30" y="245.20" font-size="9.02" text-anchor="end" transform="translate(290.30 245.20) scale(0.9091 1) translate(-290.30 -245.20)" fill="#050505">20</text>
<text x="277.0" y="294.4" font-size="8.6" text-anchor="middle" fill="#050505" transform="rotate(-90 277.0 294.4)">Ratio of IC<tspan font-size="5.8" dy="1.8">50</tspan><tspan dy="-1.8"> to parental</tspan></text>
<rect x="464.60" y="249.80" width="8.50" height="5.00" fill="#4a62b0"/>
<text x="479.70" y="254.70" font-size="7.70" text-anchor="start" transform="translate(479.70 254.70) scale(0.9091 1) translate(-479.70 -254.70)" fill="#050505">Parental</text>
<rect x="464.60" y="260.42" width="8.50" height="5.00" fill="#e04848"/>
<text x="479.70" y="265.32" font-size="7.70" text-anchor="start" transform="translate(479.70 265.32) scale(0.9091 1) translate(-479.70 -265.32)" fill="#050505">Clone1</text>
<rect x="464.60" y="271.04" width="8.50" height="5.00" fill="#4aaa60"/>
<text x="479.70" y="275.94" font-size="7.70" text-anchor="start" transform="translate(479.70 275.94) scale(0.9091 1) translate(-479.70 -275.94)" fill="#050505">Clone2</text>
<rect x="464.60" y="281.66" width="8.50" height="5.00" fill="#7a58a8"/>
<text x="479.70" y="286.56" font-size="7.70" text-anchor="start" transform="translate(479.70 286.56) scale(0.9091 1) translate(-479.70 -286.56)" fill="#050505">Clone3</text>
<rect x="464.60" y="292.28" width="8.50" height="5.00" fill="#f08848"/>
<text x="479.70" y="297.18" font-size="7.70" text-anchor="start" transform="translate(479.70 297.18) scale(0.9091 1) translate(-479.70 -297.18)" fill="#050505">Clone4</text>
<rect x="464.60" y="302.90" width="8.50" height="5.00" fill="#000000"/>
<text x="479.70" y="307.80" font-size="7.70" text-anchor="start" transform="translate(479.70 307.80) scale(0.9091 1) translate(-479.70 -307.80)" fill="#050505">Clone5</text>
<line x1="295.00" y1="408.00" x2="322.70" y2="408.00" stroke="#111" stroke-width="1.6"/>
<line x1="326.80" y1="408.00" x2="335.40" y2="408.00" stroke="#111" stroke-width="1.6"/>
<line x1="337.70" y1="408.00" x2="365.40" y2="408.00" stroke="#111" stroke-width="1.6"/>
<line x1="368.40" y1="408.00" x2="376.30" y2="408.00" stroke="#111" stroke-width="1.6"/>
<line x1="380.10" y1="408.00" x2="387.90" y2="408.00" stroke="#111" stroke-width="1.6"/>
<line x1="393.00" y1="408.00" x2="408.90" y2="408.00" stroke="#111" stroke-width="1.6"/>
<line x1="413.30" y1="408.00" x2="462.30" y2="408.00" stroke="#111" stroke-width="1.6"/>
<line x1="468.00" y1="408.00" x2="515.70" y2="408.00" stroke="#111" stroke-width="1.6"/>
<text x="308.20" y="420.40" font-size="8.03" text-anchor="middle" transform="translate(308.20 420.40) scale(0.9091 1) translate(-308.20 -420.40)" fill="#050505">PI3K</text>
<text x="350.40" y="420.40" font-size="8.03" text-anchor="middle" transform="translate(350.40 420.40) scale(0.9091 1) translate(-350.40 -420.40)" fill="#050505">PI3Kβ</text>
<text x="438.60" y="419.50" font-size="9.38" text-anchor="middle" transform="translate(438.60 419.50) scale(0.8000 1) translate(-438.60 -419.50)" fill="#050505">Receptor</text>
<text x="438.50" y="429.90" font-size="9.38" text-anchor="middle" transform="translate(438.50 429.90) scale(0.8000 1) translate(-438.50 -429.90)" fill="#050505">tyrosine kinase</text>
<text x="491.10" y="420.20" font-size="8.03" text-anchor="middle" transform="translate(491.10 420.20) scale(0.9091 1) translate(-491.10 -420.20)" fill="#050505">Others</text>
<text x="335.30" y="413.80" font-size="7.65" text-anchor="end" transform="rotate(-90 335.30 413.80)" fill="#050505">PI3K/mTOR</text>
<text x="376.90" y="413.80" font-size="7.65" text-anchor="end" transform="rotate(-90 376.90 413.80)" fill="#050505">AKT</text>
<text x="387.00" y="413.30" font-size="7.65" text-anchor="end" transform="rotate(-90 387.00 413.30)" fill="#050505">TORC1/2</text>
<text x="404.30" y="413.80" font-size="7.65" text-anchor="end" transform="rotate(-90 404.30 413.80)" fill="#050505">MAPK</text>
<text x="1.20" y="470.00" font-size="12.90" text-anchor="start" font-weight="bold" fill="#000">D</text>
<text x="126.30" y="471.10" font-size="8.03" text-anchor="middle" transform="translate(126.30 471.10) scale(0.9091 1) translate(-126.30 -471.10)" fill="#050505">EVSA-T</text>
<line x1="51.00" y1="481.00" x2="51.00" y2="615.60" stroke="#111" stroke-width="1.1"/>
<line x1="50.50" y1="615.30" x2="209.60" y2="615.30" stroke="#111" stroke-width="1.1"/>
<line x1="48.20" y1="615.30" x2="51.00" y2="615.30" stroke="#111" stroke-width="1"/>
<text x="47.20" y="618.20" font-size="9.02" text-anchor="end" transform="translate(47.20 618.20) scale(0.9091 1) translate(-47.20 -618.20)" fill="#050505">0</text>
<line x1="48.20" y1="592.90" x2="51.00" y2="592.90" stroke="#111" stroke-width="1"/>
<text x="47.20" y="595.80" font-size="9.02" text-anchor="end" transform="translate(47.20 595.80) scale(0.9091 1) translate(-47.20 -595.80)" fill="#050505">20</text>
<line x1="48.20" y1="570.50" x2="51.00" y2="570.50" stroke="#111" stroke-width="1"/>
<text x="47.20" y="573.40" font-size="9.02" text-anchor="end" transform="translate(47.20 573.40) scale(0.9091 1) translate(-47.20 -573.40)" fill="#050505">40</text>
<line x1="48.20" y1="548.10" x2="51.00" y2="548.10" stroke="#111" stroke-width="1"/>
<text x="47.20" y="551.00" font-size="9.02" text-anchor="end" transform="translate(47.20 551.00) scale(0.9091 1) translate(-47.20 -551.00)" fill="#050505">60</text>
<line x1="48.20" y1="525.70" x2="51.00" y2="525.70" stroke="#111" stroke-width="1"/>
<text x="47.20" y="528.60" font-size="9.02" text-anchor="end" transform="translate(47.20 528.60) scale(0.9091 1) translate(-47.20 -528.60)" fill="#050505">80</text>
<line x1="48.20" y1="503.30" x2="51.00" y2="503.30" stroke="#111" stroke-width="1"/>
<text x="47.20" y="506.20" font-size="9.02" text-anchor="end" transform="translate(47.20 506.20) scale(0.9091 1) translate(-47.20 -506.20)" fill="#050505">100</text>
<line x1="48.20" y1="480.90" x2="51.00" y2="480.90" stroke="#111" stroke-width="1"/>
<text x="47.20" y="483.80" font-size="9.02" text-anchor="end" transform="translate(47.20 483.80) scale(0.9091 1) translate(-47.20 -483.80)" fill="#050505">120</text>
<text x="30.20" y="551.40" font-size="8.60" text-anchor="middle" transform="rotate(-90 30.20 551.40)" fill="#050505">Cell viability (% of NTC)</text>
<line x1="58.10" y1="498.82" x2="58.10" y2="502.52" stroke="#111" stroke-width="1"/>
<line x1="56.10" y1="498.82" x2="60.10" y2="498.82" stroke="#111" stroke-width="1"/>
<rect x="54.40" y="503.02" width="7.40" height="112.28" fill="#0a0a0a" stroke="#111" stroke-width="1"/>
<line x1="58.10" y1="615.30" x2="58.10" y2="617.80" stroke="#111" stroke-width="0.9"/>
<text x="61.50" y="620.40" font-size="8.45" text-anchor="end" transform="rotate(-90 61.50 620.40)" fill="#050505">NTC</text>
<line x1="68.44" y1="509.46" x2="68.44" y2="510.47" stroke="#111" stroke-width="1"/>
<line x1="66.44" y1="509.46" x2="70.44" y2="509.46" stroke="#111" stroke-width="1"/>
<rect x="64.74" y="510.97" width="7.40" height="104.33" fill="#4066b4" stroke="#111" stroke-width="1"/>
<line x1="68.44" y1="615.30" x2="68.44" y2="617.80" stroke="#111" stroke-width="0.9"/>
<text x="71.84" y="620.40" font-size="8.45" text-anchor="end" transform="rotate(-90 71.84 620.40)" fill="#050505">PIK3CA_S12</text>
<line x1="78.78" y1="490.98" x2="78.78" y2="498.82" stroke="#111" stroke-width="1"/>
<line x1="76.78" y1="490.98" x2="80.78" y2="490.98" stroke="#111" stroke-width="1"/>
<rect x="75.08" y="499.32" width="7.40" height="115.98" fill="#4066b4" stroke="#111" stroke-width="1"/>
<line x1="78.78" y1="615.30" x2="78.78" y2="617.80" stroke="#111" stroke-width="0.9"/>
<text x="82.18" y="620.40" font-size="8.45" text-anchor="end" transform="rotate(-90 82.18 620.40)" fill="#050505">PIK3CA_S15</text>
<line x1="89.12" y1="549.33" x2="89.12" y2="552.13" stroke="#111" stroke-width="1"/>
<line x1="87.12" y1="549.33" x2="91.12" y2="549.33" stroke="#111" stroke-width="1"/>
<rect x="85.42" y="552.63" width="7.40" height="62.67" fill="#e8524e" stroke="#111" stroke-width="1"/>
<line x1="89.12" y1="615.30" x2="89.12" y2="617.80" stroke="#111" stroke-width="0.9"/>
<text x="92.52" y="620.40" font-size="8.45" text-anchor="end" transform="rotate(-90 92.52 620.40)" fill="#050505">PIK3CB_S10</text>
<line x1="99.46" y1="564.23" x2="99.46" y2="570.05" stroke="#111" stroke-width="1"/>
<line x1="97.46" y1="564.23" x2="101.46" y2="564.23" stroke="#111" stroke-width="1"/>
<rect x="95.76" y="570.55" width="7.40" height="44.75" fill="#e8524e" stroke="#111" stroke-width="1"/>
<line x1="99.46" y1="615.30" x2="99.46" y2="617.80" stroke="#111" stroke-width="0.9"/>
<text x="102.86" y="620.40" font-size="8.45" text-anchor="end" transform="rotate(-90 102.86 620.40)" fill="#050505">PIK3CB_S12</text>
<line x1="109.80" y1="507.00" x2="109.80" y2="511.25" stroke="#111" stroke-width="1"/>
<line x1="107.80" y1="507.00" x2="111.80" y2="507.00" stroke="#111" stroke-width="1"/>
<rect x="106.10" y="511.75" width="7.40" height="103.55" fill="#0a0a0a" stroke="#111" stroke-width="1"/>
<line x1="109.80" y1="615.30" x2="109.80" y2="617.80" stroke="#111" stroke-width="0.9"/>
<text x="113.20" y="620.40" font-size="8.45" text-anchor="end" transform="rotate(-90 113.20 620.40)" fill="#050505">NTC</text>
<line x1="120.14" y1="514.50" x2="120.14" y2="517.97" stroke="#111" stroke-width="1"/>
<line x1="118.14" y1="514.50" x2="122.14" y2="514.50" stroke="#111" stroke-width="1"/>
<rect x="116.44" y="518.47" width="7.40" height="96.83" fill="#4066b4" stroke="#111" stroke-width="1"/>
<line x1="120.14" y1="615.30" x2="120.14" y2="617.80" stroke="#111" stroke-width="0.9"/>
<text x="123.54" y="620.40" font-size="8.45" text-anchor="end" transform="rotate(-90 123.54 620.40)" fill="#050505">PIK3CA_S12</text>
<line x1="130.48" y1="493.22" x2="130.48" y2="505.54" stroke="#111" stroke-width="1"/>
<line x1="128.48" y1="493.22" x2="132.48" y2="493.22" stroke="#111" stroke-width="1"/>
<rect x="126.78" y="506.04" width="7.40" height="109.26" fill="#4066b4" stroke="#111" stroke-width="1"/>
<line x1="130.48" y1="615.30" x2="130.48" y2="617.80" stroke="#111" stroke-width="0.9"/>
<text x="133.88" y="620.40" font-size="8.45" text-anchor="end" transform="rotate(-90 133.88 620.40)" fill="#050505">PIK3CA_S15</text>
<line x1="140.82" y1="568.37" x2="140.82" y2="576.32" stroke="#111" stroke-width="1"/>
<line x1="138.82" y1="568.37" x2="142.82" y2="568.37" stroke="#111" stroke-width="1"/>
<rect x="137.12" y="576.82" width="7.40" height="38.48" fill="#e8524e" stroke="#111" stroke-width="1"/>
<line x1="140.82" y1="615.30" x2="140.82" y2="617.80" stroke="#111" stroke-width="0.9"/>
<text x="144.22" y="620.40" font-size="8.45" text-anchor="end" transform="rotate(-90 144.22 620.40)" fill="#050505">PIK3CB_S10</text>
<line x1="151.16" y1="572.85" x2="151.16" y2="580.58" stroke="#111" stroke-width="1"/>
<line x1="149.16" y1="572.85" x2="153.16" y2="572.85" stroke="#111" stroke-width="1"/>
<rect x="147.46" y="581.08" width="7.40" height="34.22" fill="#e8524e" stroke="#111" stroke-width="1"/>
<line x1="151.16" y1="615.30" x2="151.16" y2="617.80" stroke="#111" stroke-width="0.9"/>
<text x="154.56" y="620.40" font-size="8.45" text-anchor="end" transform="rotate(-90 154.56 620.40)" fill="#050505">PIK3CB_S12</text>
<line x1="161.50" y1="502.52" x2="161.50" y2="507.00" stroke="#111" stroke-width="1"/>
<line x1="159.50" y1="502.52" x2="163.50" y2="502.52" stroke="#111" stroke-width="1"/>
<rect x="157.80" y="507.50" width="7.40" height="107.80" fill="#0a0a0a" stroke="#111" stroke-width="1"/>
<line x1="161.50" y1="615.30" x2="161.50" y2="617.80" stroke="#111" stroke-width="0.9"/>
<text x="164.90" y="620.40" font-size="8.45" text-anchor="end" transform="rotate(-90 164.90 620.40)" fill="#050505">NTC</text>
<line x1="171.84" y1="515.73" x2="171.84" y2="519.20" stroke="#111" stroke-width="1"/>
<line x1="169.84" y1="515.73" x2="173.84" y2="515.73" stroke="#111" stroke-width="1"/>
<rect x="168.14" y="519.70" width="7.40" height="95.60" fill="#4066b4" stroke="#111" stroke-width="1"/>
<line x1="171.84" y1="615.30" x2="171.84" y2="617.80" stroke="#111" stroke-width="0.9"/>
<text x="175.24" y="620.40" font-size="8.45" text-anchor="end" transform="rotate(-90 175.24 620.40)" fill="#050505">PIK3CA_S12</text>
<line x1="182.18" y1="495.46" x2="182.18" y2="499.49" stroke="#111" stroke-width="1"/>
<line x1="180.18" y1="495.46" x2="184.18" y2="495.46" stroke="#111" stroke-width="1"/>
<rect x="178.48" y="499.99" width="7.40" height="115.31" fill="#4066b4" stroke="#111" stroke-width="1"/>
<line x1="182.18" y1="615.30" x2="182.18" y2="617.80" stroke="#111" stroke-width="0.9"/>
<text x="185.58" y="620.40" font-size="8.45" text-anchor="end" transform="rotate(-90 185.58 620.40)" fill="#050505">PIK3CA_S15</text>
<line x1="192.52" y1="570.50" x2="192.52" y2="575.65" stroke="#111" stroke-width="1"/>
<line x1="190.52" y1="570.50" x2="194.52" y2="570.50" stroke="#111" stroke-width="1"/>
<rect x="188.82" y="576.15" width="7.40" height="39.15" fill="#e8524e" stroke="#111" stroke-width="1"/>
<line x1="192.52" y1="615.30" x2="192.52" y2="617.80" stroke="#111" stroke-width="0.9"/>
<text x="195.92" y="620.40" font-size="8.45" text-anchor="end" transform="rotate(-90 195.92 620.40)" fill="#050505">PIK3CB_S10</text>
<line x1="202.86" y1="583.27" x2="202.86" y2="589.20" stroke="#111" stroke-width="1"/>
<line x1="200.86" y1="583.27" x2="204.86" y2="583.27" stroke="#111" stroke-width="1"/>
<rect x="199.16" y="589.70" width="7.40" height="25.60" fill="#e8524e" stroke="#111" stroke-width="1"/>
<line x1="202.86" y1="615.30" x2="202.86" y2="617.80" stroke="#111" stroke-width="0.9"/>
<text x="206.26" y="620.40" font-size="8.45" text-anchor="end" transform="rotate(-90 206.26 620.40)" fill="#050505">PIK3CB_S12</text>
<line x1="53.00" y1="678.30" x2="100.00" y2="678.30" stroke="#111" stroke-width="1.6"/>
<text x="78.00" y="689.30" font-size="9.13" text-anchor="middle" transform="translate(78.00 689.30) scale(0.9091 1) translate(-78.00 -689.30)" fill="#050505">Parental</text>
<line x1="105.50" y1="678.30" x2="152.50" y2="678.30" stroke="#111" stroke-width="1.6"/>
<text x="131.25" y="689.30" font-size="9.13" text-anchor="middle" transform="translate(131.25 689.30) scale(0.9091 1) translate(-131.25 -689.30)" fill="#050505">Clone1</text>
<line x1="157.50" y1="678.30" x2="204.50" y2="678.30" stroke="#111" stroke-width="1.6"/>
<text x="182.50" y="689.30" font-size="9.13" text-anchor="middle" transform="translate(182.50 689.30) scale(0.9091 1) translate(-182.50 -689.30)" fill="#050505">Clone2</text>
<text x="351.25" y="487.60" font-size="8.03" text-anchor="middle" transform="translate(351.25 487.60) scale(0.9091 1) translate(-351.25 -487.60)" fill="#050505">EVSA-T</text>
<line x1="282.50" y1="504.50" x2="325.00" y2="504.50" stroke="#111" stroke-width="1.6"/>
<text x="303.75" y="502.00" font-size="8.25" text-anchor="middle" transform="translate(303.75 502.00) scale(0.9091 1) translate(-303.75 -502.00)" fill="#050505">Parental</text>
<line x1="331.25" y1="504.50" x2="373.00" y2="504.50" stroke="#111" stroke-width="1.6"/>
<text x="351.25" y="502.00" font-size="8.25" text-anchor="middle" transform="translate(351.25 502.00) scale(0.9091 1) translate(-351.25 -502.00)" fill="#050505">Clone1</text>
<line x1="380.30" y1="504.50" x2="422.30" y2="504.50" stroke="#111" stroke-width="1.6"/>
<text x="401.50" y="502.00" font-size="8.25" text-anchor="middle" transform="translate(401.50 502.00) scale(0.9091 1) translate(-401.50 -502.00)" fill="#050505">Clone2</text>
<text x="288.95" y="555.50" font-size="7.60" text-anchor="start" transform="rotate(-90 288.95 555.50)" fill="#050505">NTC</text>
<text x="297.85" y="555.50" font-size="7.60" text-anchor="start" transform="rotate(-90 297.85 555.50)" fill="#050505">PIK3CA_S12</text>
<text x="306.75" y="555.50" font-size="7.60" text-anchor="start" transform="rotate(-90 306.75 555.50)" fill="#050505">PIK3CA_S15</text>
<text x="315.65" y="555.50" font-size="7.60" text-anchor="start" transform="rotate(-90 315.65 555.50)" fill="#050505">PIK3CB_S10</text>
<text x="324.55" y="555.50" font-size="7.60" text-anchor="start" transform="rotate(-90 324.55 555.50)" fill="#050505">PIK3CB_S12</text>
<text x="336.45" y="555.50" font-size="7.60" text-anchor="start" transform="rotate(-90 336.45 555.50)" fill="#050505">NTC</text>
<text x="345.40" y="555.50" font-size="7.60" text-anchor="start" transform="rotate(-90 345.40 555.50)" fill="#050505">PIK3CA_S12</text>
<text x="354.35" y="555.50" font-size="7.60" text-anchor="start" transform="rotate(-90 354.35 555.50)" fill="#050505">PIK3CA_S15</text>
<text x="363.30" y="555.50" font-size="7.60" text-anchor="start" transform="rotate(-90 363.30 555.50)" fill="#050505">PIK3CB_S10</text>
<text x="372.25" y="555.50" font-size="7.60" text-anchor="start" transform="rotate(-90 372.25 555.50)" fill="#050505">PIK3CB_S12</text>
<text x="385.10" y="555.50" font-size="7.60" text-anchor="start" transform="rotate(-90 385.10 555.50)" fill="#050505">NTC</text>
<text x="394.30" y="555.50" font-size="7.60" text-anchor="start" transform="rotate(-90 394.30 555.50)" fill="#050505">PIK3CA_S12</text>
<text x="403.50" y="555.50" font-size="7.60" text-anchor="start" transform="rotate(-90 403.50 555.50)" fill="#050505">PIK3CA_S15</text>
<text x="412.70" y="555.50" font-size="7.60" text-anchor="start" transform="rotate(-90 412.70 555.50)" fill="#050505">PIK3CB_S10</text>
<text x="421.90" y="555.50" font-size="7.60" text-anchor="start" transform="rotate(-90 421.90 555.50)" fill="#050505">PIK3CB_S12</text>
<text x="277.00" y="565.75" font-size="9.02" text-anchor="end" transform="translate(277.00 565.75) scale(0.9091 1) translate(-277.00 -565.75)" fill="#050505">p110α</text>
<rect x="279.60" y="555.90" width="47.40" height="13.90" fill="#e4e4e4" stroke="#262626" stroke-width="1.25"/>
<rect x="283.05" y="561.69" width="6.40" height="2.32" rx="1.16" fill="#0d0d0d" fill-opacity="0.67" filter="url(#bl)"/>
<rect x="292.59" y="562.04" width="5.12" height="1.62" rx="0.81" fill="#0d0d0d" fill-opacity="0.21" filter="url(#bl)"/>
<rect x="301.49" y="562.04" width="5.12" height="1.62" rx="0.81" fill="#0d0d0d" fill-opacity="0.21" filter="url(#bl)"/>
<rect x="309.56" y="561.58" width="6.78" height="2.53" rx="1.27" fill="#0d0d0d" fill-opacity="0.81" filter="url(#bl)"/>
<rect x="318.46" y="561.58" width="6.78" height="2.53" rx="1.27" fill="#0d0d0d" fill-opacity="0.81" filter="url(#bl)"/>
<rect x="328.60" y="555.90" width="46.40" height="13.90" fill="#dcdcdc" stroke="#262626" stroke-width="1.25"/>
<rect x="329.99" y="561.38" width="7.52" height="2.94" rx="1.47" fill="#0d0d0d" fill-opacity="1.00" filter="url(#bl)"/>
<rect x="339.98" y="561.95" width="5.44" height="1.79" rx="0.90" fill="#0d0d0d" fill-opacity="0.33" filter="url(#bl)"/>
<rect x="348.85" y="561.91" width="5.60" height="1.88" rx="0.94" fill="#0d0d0d" fill-opacity="0.39" filter="url(#bl)"/>
<rect x="356.84" y="561.38" width="7.52" height="2.94" rx="1.47" fill="#0d0d0d" fill-opacity="1.00" filter="url(#bl)"/>
<rect x="365.71" y="561.34" width="7.68" height="3.02" rx="1.51" fill="#0d0d0d" fill-opacity="1.00" filter="url(#bl)"/>
<rect x="377.40" y="555.90" width="46.30" height="13.90" fill="#e2e2e2" stroke="#262626" stroke-width="1.25"/>
<rect x="379.36" y="561.78" width="6.08" height="2.14" rx="1.07" fill="#0d0d0d" fill-opacity="0.56" filter="url(#bl)"/>
<rect x="389.04" y="562.04" width="5.12" height="1.62" rx="0.81" fill="#0d0d0d" fill-opacity="0.21" filter="url(#bl)"/>
<rect x="398.08" y="561.95" width="5.44" height="1.79" rx="0.90" fill="#0d0d0d" fill-opacity="0.33" filter="url(#bl)"/>
<rect x="406.61" y="561.58" width="6.78" height="2.53" rx="1.27" fill="#0d0d0d" fill-opacity="0.81" filter="url(#bl)"/>
<rect x="415.68" y="561.51" width="7.04" height="2.67" rx="1.34" fill="#0d0d0d" fill-opacity="0.90" filter="url(#bl)"/>
<text x="277.00" y="582.20" font-size="9.02" text-anchor="end" transform="translate(277.00 582.20) scale(0.9091 1) translate(-277.00 -582.20)" fill="#050505">p110β</text>
<rect x="279.60" y="572.40" width="47.40" height="13.80" fill="#d6d6d6" stroke="#262626" stroke-width="1.25"/>
<rect x="282.41" y="577.69" width="7.68" height="3.21" rx="1.61" fill="#0d0d0d" fill-opacity="1.00" filter="url(#bl)"/>
<rect x="291.31" y="577.69" width="7.68" height="3.21" rx="1.61" fill="#0d0d0d" fill-opacity="1.00" filter="url(#bl)"/>
<rect x="300.21" y="577.69" width="7.68" height="3.21" rx="1.61" fill="#0d0d0d" fill-opacity="1.00" filter="url(#bl)"/>
<rect x="310.07" y="578.25" width="5.76" height="2.09" rx="1.05" fill="#0d0d0d" fill-opacity="0.44" filter="url(#bl)"/>
<rect x="319.26" y="578.42" width="5.18" height="1.75" rx="0.88" fill="#0d0d0d" fill-opacity="0.24" filter="url(#bl)"/>
<rect x="328.60" y="572.40" width="46.40" height="13.80" fill="#d8d8d8" stroke="#262626" stroke-width="1.25"/>
<rect x="329.91" y="577.69" width="7.68" height="3.21" rx="1.61" fill="#0d0d0d" fill-opacity="1.00" filter="url(#bl)"/>
<rect x="338.86" y="577.69" width="7.68" height="3.21" rx="1.61" fill="#0d0d0d" fill-opacity="1.00" filter="url(#bl)"/>
<rect x="347.81" y="577.69" width="7.68" height="3.21" rx="1.61" fill="#0d0d0d" fill-opacity="1.00" filter="url(#bl)"/>
<rect x="357.96" y="578.39" width="5.28" height="1.81" rx="0.91" fill="#0d0d0d" fill-opacity="0.27" filter="url(#bl)"/>
<rect x="367.02" y="578.46" width="5.06" height="1.68" rx="0.84" fill="#0d0d0d" fill-opacity="0.19" filter="url(#bl)"/>
<rect x="377.40" y="572.40" width="46.30" height="13.80" fill="#cdcdcd" stroke="#262626" stroke-width="1.25"/>
<rect x="378.80" y="577.83" width="7.20" height="2.93" rx="1.47" fill="#0d0d0d" fill-opacity="0.96" filter="url(#bl)"/>
<rect x="388.16" y="577.93" width="6.88" height="2.75" rx="1.37" fill="#0d0d0d" fill-opacity="0.85" filter="url(#bl)"/>
<rect x="397.36" y="577.93" width="6.88" height="2.75" rx="1.37" fill="#0d0d0d" fill-opacity="0.85" filter="url(#bl)"/>
<rect x="407.52" y="578.49" width="4.96" height="1.62" rx="0.81" fill="#0d0d0d" fill-opacity="0.16" filter="url(#bl)"/>
<rect x="416.67" y="578.46" width="5.06" height="1.68" rx="0.84" fill="#0d0d0d" fill-opacity="0.19" filter="url(#bl)"/>
<text x="277.00" y="598.60" font-size="9.02" text-anchor="end" transform="translate(277.00 598.60) scale(0.9091 1) translate(-277.00 -598.60)" fill="#050505">pS473 AKT</text>
<rect x="279.60" y="589.10" width="47.40" height="13.20" fill="#e0e0e0" stroke="#262626" stroke-width="1.25"/>
<rect x="282.49" y="593.96" width="7.52" height="3.49" rx="1.74" fill="#0d0d0d" fill-opacity="1.00" filter="url(#bl)"/>
<rect x="291.60" y="594.09" width="7.10" height="3.21" rx="1.61" fill="#0d0d0d" fill-opacity="0.93" filter="url(#bl)"/>
<rect x="300.77" y="594.27" width="6.56" height="2.86" rx="1.43" fill="#0d0d0d" fill-opacity="0.73" filter="url(#bl)"/>
<rect x="310.07" y="594.53" width="5.76" height="2.34" rx="1.17" fill="#0d0d0d" fill-opacity="0.44" filter="url(#bl)"/>
<rect x="318.81" y="594.43" width="6.08" height="2.55" rx="1.27" fill="#0d0d0d" fill-opacity="0.56" filter="url(#bl)"/>
<rect x="328.60" y="589.10" width="46.40" height="13.20" fill="#dedede" stroke="#262626" stroke-width="1.25"/>
<rect x="329.91" y="593.90" width="7.68" height="3.59" rx="1.80" fill="#0d0d0d" fill-opacity="1.00" filter="url(#bl)"/>
<rect x="339.02" y="594.01" width="7.36" height="3.38" rx="1.69" fill="#0d0d0d" fill-opacity="1.00" filter="url(#bl)"/>
<rect x="347.78" y="593.88" width="7.74" height="3.63" rx="1.82" fill="#0d0d0d" fill-opacity="1.00" filter="url(#bl)"/>
<rect x="357.40" y="594.32" width="6.40" height="2.76" rx="1.38" fill="#0d0d0d" fill-opacity="0.67" filter="url(#bl)"/>
<rect x="366.27" y="594.27" width="6.56" height="2.86" rx="1.43" fill="#0d0d0d" fill-opacity="0.73" filter="url(#bl)"/>
<rect x="377.40" y="589.10" width="46.30" height="13.20" fill="#e0e0e0" stroke="#262626" stroke-width="1.25"/>
<rect x="378.85" y="594.09" width="7.10" height="3.21" rx="1.61" fill="#0d0d0d" fill-opacity="0.93" filter="url(#bl)"/>
<rect x="388.16" y="594.17" width="6.88" height="3.07" rx="1.53" fill="#0d0d0d" fill-opacity="0.85" filter="url(#bl)"/>
<rect x="397.44" y="594.22" width="6.72" height="2.96" rx="1.48" fill="#0d0d0d" fill-opacity="0.79" filter="url(#bl)"/>
<rect x="407.20" y="594.58" width="5.60" height="2.23" rx="1.12" fill="#0d0d0d" fill-opacity="0.39" filter="url(#bl)"/>
<rect x="416.24" y="594.48" width="5.92" height="2.44" rx="1.22" fill="#0d0d0d" fill-opacity="0.50" filter="url(#bl)"/>
<text x="277.00" y="614.50" font-size="9.02" text-anchor="end" transform="translate(277.00 614.50) scale(0.9091 1) translate(-277.00 -614.50)" fill="#050505">AKT</text>
<rect x="279.60" y="605.00" width="47.40" height="13.20" fill="#e6e6e6" stroke="#262626" stroke-width="1.25"/>
<rect x="282.25" y="609.50" width="8.00" height="4.20" rx="2.10" fill="#0d0d0d" fill-opacity="1.00" filter="url(#bl)"/>
<rect x="291.15" y="609.50" width="8.00" height="4.20" rx="2.10" fill="#0d0d0d" fill-opacity="1.00" filter="url(#bl)"/>
<rect x="300.05" y="609.50" width="8.00" height="4.20" rx="2.10" fill="#0d0d0d" fill-opacity="1.00" filter="url(#bl)"/>
<rect x="308.95" y="609.50" width="8.00" height="4.20" rx="2.10" fill="#0d0d0d" fill-opacity="1.00" filter="url(#bl)"/>
<rect x="317.85" y="609.50" width="8.00" height="4.20" rx="2.10" fill="#0d0d0d" fill-opacity="1.00" filter="url(#bl)"/>
<rect x="328.60" y="605.00" width="46.40" height="13.20" fill="#e4e4e4" stroke="#262626" stroke-width="1.25"/>
<rect x="329.75" y="609.50" width="8.00" height="4.20" rx="2.10" fill="#0d0d0d" fill-opacity="1.00" filter="url(#bl)"/>
<rect x="338.70" y="609.50" width="8.00" height="4.20" rx="2.10" fill="#0d0d0d" fill-opacity="1.00" filter="url(#bl)"/>
<rect x="347.65" y="609.50" width="8.00" height="4.20" rx="2.10" fill="#0d0d0d" fill-opacity="1.00" filter="url(#bl)"/>
<rect x="356.60" y="609.50" width="8.00" height="4.20" rx="2.10" fill="#0d0d0d" fill-opacity="1.00" filter="url(#bl)"/>
<rect x="365.55" y="609.50" width="8.00" height="4.20" rx="2.10" fill="#0d0d0d" fill-opacity="1.00" filter="url(#bl)"/>
<rect x="377.40" y="605.00" width="46.30" height="13.20" fill="#e6e6e6" stroke="#262626" stroke-width="1.25"/>
<rect x="378.40" y="609.50" width="8.00" height="4.20" rx="2.10" fill="#0d0d0d" fill-opacity="1.00" filter="url(#bl)"/>
<rect x="387.60" y="609.50" width="8.00" height="4.20" rx="2.10" fill="#0d0d0d" fill-opacity="1.00" filter="url(#bl)"/>
<rect x="396.80" y="609.50" width="8.00" height="4.20" rx="2.10" fill="#0d0d0d" fill-opacity="1.00" filter="url(#bl)"/>
<rect x="406.00" y="609.50" width="8.00" height="4.20" rx="2.10" fill="#0d0d0d" fill-opacity="1.00" filter="url(#bl)"/>
<rect x="415.20" y="609.50" width="8.00" height="4.20" rx="2.10" fill="#0d0d0d" fill-opacity="1.00" filter="url(#bl)"/>
</svg>
</body></html>
